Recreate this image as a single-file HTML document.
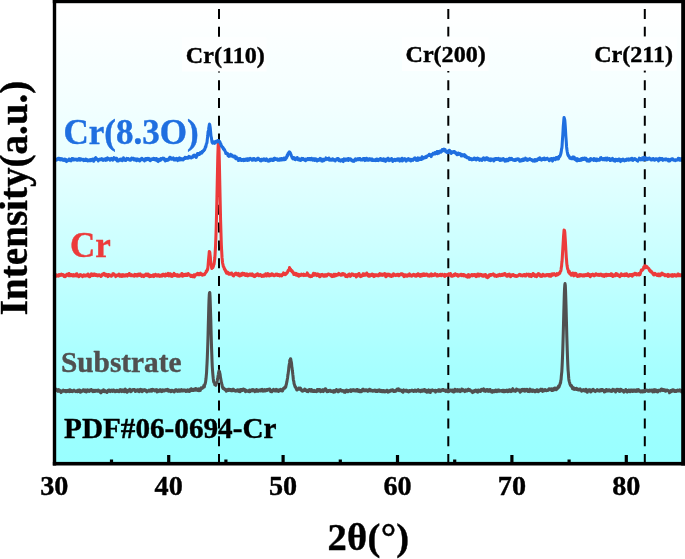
<!DOCTYPE html>
<html><head><meta charset="utf-8"><title>XRD</title>
<style>
html,body{margin:0;padding:0;background:#fff;}
body{width:685px;height:559px;overflow:hidden;}
svg{display:block;}
svg text{font-family:"Liberation Serif","Times New Roman",serif;font-weight:bold;stroke-width:0.4px;stroke-linejoin:round;}
</style></head><body>
<svg width="685" height="559" viewBox="0 0 685 559">
<defs>
<linearGradient id="bg" x1="0" y1="0" x2="0" y2="1">
<stop offset="0.000" stop-color="#ffffff"/>
<stop offset="0.025" stop-color="#feffff"/>
<stop offset="0.050" stop-color="#fdffff"/>
<stop offset="0.075" stop-color="#fbffff"/>
<stop offset="0.100" stop-color="#faffff"/>
<stop offset="0.125" stop-color="#f8ffff"/>
<stop offset="0.150" stop-color="#f7ffff"/>
<stop offset="0.175" stop-color="#f6ffff"/>
<stop offset="0.200" stop-color="#f4ffff"/>
<stop offset="0.225" stop-color="#f2ffff"/>
<stop offset="0.250" stop-color="#f0ffff"/>
<stop offset="0.275" stop-color="#eeffff"/>
<stop offset="0.300" stop-color="#ecffff"/>
<stop offset="0.325" stop-color="#e9ffff"/>
<stop offset="0.350" stop-color="#e6ffff"/>
<stop offset="0.375" stop-color="#e3ffff"/>
<stop offset="0.400" stop-color="#dfffff"/>
<stop offset="0.425" stop-color="#dcffff"/>
<stop offset="0.450" stop-color="#d8ffff"/>
<stop offset="0.475" stop-color="#d4ffff"/>
<stop offset="0.500" stop-color="#d0ffff"/>
<stop offset="0.525" stop-color="#cdffff"/>
<stop offset="0.550" stop-color="#c9ffff"/>
<stop offset="0.575" stop-color="#c5ffff"/>
<stop offset="0.600" stop-color="#c2ffff"/>
<stop offset="0.625" stop-color="#beffff"/>
<stop offset="0.650" stop-color="#baffff"/>
<stop offset="0.675" stop-color="#b7ffff"/>
<stop offset="0.700" stop-color="#b3ffff"/>
<stop offset="0.725" stop-color="#b0ffff"/>
<stop offset="0.750" stop-color="#acffff"/>
<stop offset="0.775" stop-color="#a9ffff"/>
<stop offset="0.800" stop-color="#a6ffff"/>
<stop offset="0.825" stop-color="#a4ffff"/>
<stop offset="0.850" stop-color="#a2ffff"/>
<stop offset="0.875" stop-color="#a0ffff"/>
<stop offset="0.900" stop-color="#9effff"/>
<stop offset="0.925" stop-color="#9dffff"/>
<stop offset="0.950" stop-color="#9bffff"/>
<stop offset="0.975" stop-color="#9affff"/>
<stop offset="1.000" stop-color="#99ffff"/>

</linearGradient>
</defs>
<rect x="0" y="0" width="685" height="559" fill="#fff"/>
<rect x="54.4" y="1.6" width="629.1" height="461.7" fill="url(#bg)"/>
<g stroke="#000" stroke-width="2" stroke-dasharray="10 7.8" fill="none">
<line x1="219" y1="9" x2="219" y2="463"/>
<line x1="448.3" y1="9" x2="448.3" y2="463"/>
<line x1="644.8" y1="9" x2="644.8" y2="463"/>
</g>
<g fill="#fdffff">
<rect x="182" y="37.2" width="84.5" height="34.3"/>
<rect x="402" y="36.6" width="86.5" height="34.4"/>
<rect x="591" y="36.6" width="85.6" height="34"/>
</g>
<g fill="#000" stroke="#000" font-size="24.1">
<text x="185.8" y="62.8">Cr(110)</text>
<text x="405.5" y="61.9">Cr(200)</text>
<text x="594.2" y="61.75">Cr(211)</text>
</g>
<g fill="none" stroke-width="3.05" stroke-linejoin="round" stroke-linecap="butt">
<path stroke="#505050" d="M54.30,390.4 54.55,389.8 54.80,390.9 55.05,390.7 55.30,390.6 55.55,389.9 55.80,389.8 56.05,390.0 56.30,389.3 56.55,389.8 56.80,390.0 57.05,390.5 57.30,390.8 57.55,389.9 57.80,390.5 58.05,391.4 58.30,390.0 58.55,390.3 58.80,389.7 59.05,390.5 59.30,390.1 59.55,390.2 59.80,390.3 60.05,391.0 60.30,391.7 60.55,391.8 60.80,390.9 61.05,392.6 61.30,391.3 61.55,391.0 61.80,391.3 62.05,390.8 62.30,390.7 62.55,390.6 62.80,390.6 63.05,390.7 63.30,390.2 63.55,391.2 63.80,390.7 64.05,391.0 64.30,390.8 64.55,390.6 64.80,390.7 65.05,391.1 65.30,390.5 65.55,390.5 65.80,391.8 66.05,390.6 66.30,391.8 66.55,391.5 66.80,391.2 67.05,391.5 67.30,391.0 67.55,390.6 67.80,390.5 68.05,390.9 68.30,390.2 68.55,390.4 68.80,391.1 69.05,391.1 69.30,391.6 69.55,390.7 69.80,389.8 70.05,390.9 70.30,391.5 70.55,390.7 70.80,391.4 71.05,391.4 71.30,390.4 71.55,390.9 71.80,390.5 72.05,391.1 72.30,391.5 72.55,391.6 72.80,391.1 73.05,391.2 73.30,390.6 73.55,390.4 73.80,390.4 74.05,390.1 74.30,390.8 74.55,390.7 74.80,391.1 75.05,391.1 75.30,391.2 75.55,391.4 75.80,391.6 76.05,391.2 76.30,391.3 76.55,391.0 76.80,390.8 77.05,390.7 77.30,390.6 77.55,391.8 77.80,390.3 78.05,391.1 78.30,390.2 78.55,391.5 78.80,391.3 79.05,390.1 79.30,390.2 79.55,390.1 79.80,390.9 80.05,391.1 80.30,392.1 80.55,390.6 80.80,392.1 81.05,391.1 81.30,391.6 81.55,391.7 81.80,391.3 82.05,391.0 82.30,390.6 82.55,390.6 82.80,390.8 83.05,390.9 83.30,389.9 83.55,390.5 83.80,390.1 84.05,390.4 84.30,390.2 84.55,390.7 84.80,391.5 85.05,391.2 85.30,390.0 85.55,390.9 85.80,390.4 86.05,391.1 86.30,392.0 86.55,391.6 86.80,391.6 87.05,390.9 87.30,390.0 87.55,389.8 87.80,390.7 88.05,390.4 88.30,390.9 88.55,390.4 88.80,391.3 89.05,390.8 89.30,391.3 89.55,390.8 89.80,390.2 90.05,390.8 90.30,390.2 90.55,390.1 90.80,389.8 91.05,390.3 91.30,389.5 91.55,389.9 91.80,390.7 92.05,390.8 92.30,391.2 92.55,391.4 92.80,391.0 93.05,391.6 93.30,390.5 93.55,391.4 93.80,390.4 94.05,390.9 94.30,391.1 94.55,391.0 94.80,391.4 95.05,390.2 95.30,391.0 95.55,390.7 95.80,391.1 96.05,391.0 96.30,390.7 96.55,390.8 96.80,390.4 97.05,391.1 97.30,390.5 97.55,391.1 97.80,390.2 98.05,391.1 98.30,390.1 98.55,391.2 98.80,390.5 99.05,391.0 99.30,390.6 99.55,391.4 99.80,391.3 100.05,392.1 100.30,392.1 100.55,392.6 100.80,392.8 101.05,391.7 101.30,392.5 101.55,391.8 101.80,390.8 102.05,391.5 102.30,390.8 102.55,391.4 102.80,390.5 103.05,390.5 103.30,390.6 103.55,389.8 103.80,390.8 104.05,390.3 104.30,391.6 104.55,391.7 104.80,391.0 105.05,390.5 105.30,391.4 105.55,391.6 105.80,391.7 106.05,391.2 106.30,391.2 106.55,391.6 106.80,391.4 107.05,392.5 107.30,391.2 107.55,391.0 107.80,391.3 108.05,390.4 108.30,390.6 108.55,390.1 108.80,390.1 109.05,390.2 109.30,391.1 109.55,390.7 109.80,390.2 110.05,390.7 110.30,391.6 110.55,390.7 110.80,390.6 111.05,390.6 111.30,390.9 111.55,390.5 111.80,390.8 112.05,390.2 112.30,390.3 112.55,390.4 112.80,391.5 113.05,390.4 113.30,390.2 113.55,390.5 113.80,390.1 114.05,390.8 114.30,390.9 114.55,390.7 114.80,390.9 115.05,391.2 115.30,391.7 115.55,391.1 115.80,391.1 116.05,390.5 116.30,390.6 116.55,391.4 116.80,390.2 117.05,390.8 117.30,390.5 117.55,390.6 117.80,391.4 118.05,390.8 118.30,391.4 118.55,391.3 118.80,390.9 119.05,391.8 119.30,391.1 119.55,390.9 119.80,389.8 120.05,390.1 120.30,389.8 120.55,390.5 120.80,391.1 121.05,389.8 121.30,391.0 121.55,390.9 121.80,391.6 122.05,391.0 122.30,390.4 122.55,390.7 122.80,390.1 123.05,389.8 123.30,390.6 123.55,390.5 123.80,391.0 124.05,390.3 124.30,391.7 124.55,391.4 124.80,391.1 125.05,389.8 125.30,389.2 125.55,389.8 125.80,390.1 126.05,391.6 126.30,391.8 126.55,391.2 126.80,392.0 127.05,392.2 127.30,391.5 127.55,391.7 127.80,391.3 128.05,390.2 128.30,390.2 128.55,390.8 128.80,391.0 129.05,389.8 129.30,389.7 129.55,390.4 129.80,389.2 130.05,391.0 130.30,389.9 130.55,390.7 130.80,391.7 131.05,390.3 131.30,390.4 131.55,391.3 131.80,390.0 132.05,389.9 132.30,389.8 132.55,389.9 132.80,390.0 133.05,389.4 133.30,389.4 133.55,389.6 133.80,389.9 134.05,390.0 134.30,389.7 134.55,390.4 134.80,389.6 135.05,390.5 135.30,391.5 135.55,391.4 135.80,391.2 136.05,390.4 136.30,390.5 136.55,390.5 136.80,390.8 137.05,390.4 137.30,389.7 137.55,390.2 137.80,390.8 138.05,391.2 138.30,390.1 138.55,390.4 138.80,390.0 139.05,390.3 139.30,391.8 139.55,390.6 139.80,390.2 140.05,390.1 140.30,389.5 140.55,389.3 140.80,390.1 141.05,390.3 141.30,391.2 141.55,389.9 141.80,391.2 142.05,391.6 142.30,390.0 142.55,391.1 142.80,390.0 143.05,390.5 143.30,390.9 143.55,390.2 143.80,390.5 144.05,389.8 144.30,390.1 144.55,390.2 144.80,389.8 145.05,389.9 145.30,390.1 145.55,390.5 145.80,390.0 146.05,391.1 146.30,390.9 146.55,391.5 146.80,391.8 147.05,391.6 147.30,391.7 147.55,390.7 147.80,391.1 148.05,390.8 148.30,390.7 148.55,390.8 148.80,390.7 149.05,390.2 149.30,390.5 149.55,390.6 149.80,391.1 150.05,390.9 150.30,391.2 150.55,390.8 150.80,389.9 151.05,390.6 151.30,389.6 151.55,390.6 151.80,391.1 152.05,390.5 152.30,390.5 152.55,389.8 152.80,389.3 153.05,390.1 153.30,390.2 153.55,389.6 153.80,389.9 154.05,390.1 154.30,390.1 154.55,390.9 154.80,390.4 155.05,390.1 155.30,390.1 155.55,390.4 155.80,389.7 156.05,390.7 156.30,390.5 156.55,390.0 156.80,389.7 157.05,392.0 157.30,390.9 157.55,391.1 157.80,391.6 158.05,391.1 158.30,391.0 158.55,391.3 158.80,390.5 159.05,391.2 159.30,390.1 159.55,391.2 159.80,391.1 160.05,389.7 160.30,391.2 160.55,389.9 160.80,390.9 161.05,390.3 161.30,390.8 161.55,390.2 161.80,391.6 162.05,391.1 162.30,391.3 162.55,390.8 162.80,390.8 163.05,389.9 163.30,390.1 163.55,390.9 163.80,390.6 164.05,390.4 164.30,390.0 164.55,390.2 164.80,390.9 165.05,390.4 165.30,390.4 165.55,389.9 165.80,389.7 166.05,389.6 166.30,389.7 166.55,389.8 166.80,389.9 167.05,390.6 167.30,389.8 167.55,389.4 167.80,390.5 168.05,390.2 168.30,390.5 168.55,391.2 168.80,390.7 169.05,390.3 169.30,390.6 169.55,390.4 169.80,390.9 170.05,390.4 170.30,390.6 170.55,390.7 170.80,391.7 171.05,391.6 171.30,390.5 171.55,390.9 171.80,390.2 172.05,390.7 172.30,390.5 172.55,391.1 172.80,390.6 173.05,390.7 173.30,390.9 173.55,391.2 173.80,391.0 174.05,390.8 174.30,391.9 174.55,391.0 174.80,390.3 175.05,390.2 175.30,389.9 175.55,390.6 175.80,390.8 176.05,389.7 176.30,390.5 176.55,389.7 176.80,390.6 177.05,390.3 177.30,390.6 177.55,391.4 177.80,391.3 178.05,390.8 178.30,390.4 178.55,390.4 178.80,390.3 179.05,389.8 179.30,391.3 179.55,390.6 179.80,390.6 180.05,390.6 180.30,391.2 180.55,390.1 180.80,390.8 181.05,390.2 181.30,390.3 181.55,389.7 181.80,390.9 182.05,390.5 182.30,390.5 182.55,390.8 182.80,390.8 183.05,390.9 183.30,390.1 183.55,390.5 183.80,390.1 184.05,390.0 184.30,390.3 184.55,390.0 184.80,390.7 185.05,390.4 185.30,390.1 185.55,390.9 185.80,391.5 186.05,390.7 186.30,390.7 186.55,390.7 186.80,390.8 187.05,390.3 187.30,390.7 187.55,389.9 187.80,391.1 188.05,390.7 188.30,390.2 188.55,390.8 188.80,391.0 189.05,391.4 189.30,390.2 189.55,391.5 189.80,390.5 190.05,389.6 190.30,390.9 190.55,389.8 190.80,389.2 191.05,389.5 191.30,388.7 191.55,389.9 191.80,389.4 192.05,389.4 192.30,390.5 192.55,390.1 192.80,389.5 193.05,389.4 193.30,390.0 193.55,390.5 193.80,389.7 194.05,389.4 194.30,389.9 194.55,389.5 194.80,389.6 195.05,390.3 195.30,388.9 195.55,389.4 195.80,388.5 196.05,389.6 196.30,390.1 196.55,390.2 196.80,389.1 197.05,389.9 197.30,390.0 197.55,389.7 197.80,390.5 198.05,389.4 198.30,389.0 198.55,389.9 198.80,389.0 199.05,390.7 199.30,390.4 199.55,389.5 199.80,390.0 200.05,389.9 200.30,390.4 200.55,388.9 200.80,388.3 201.05,387.9 201.30,388.6 201.55,388.1 201.80,388.4 202.05,388.4 202.30,388.0 202.55,387.5 202.80,387.9 203.05,387.4 203.30,386.9 203.55,387.0 203.80,385.6 204.05,385.8 204.30,386.9 204.55,385.4 204.80,384.2 205.05,384.2 205.30,383.1 205.55,382.1 205.80,380.2 206.05,378.3 206.30,375.4 206.55,372.8 206.80,367.6 207.05,363.1 207.30,357.6 207.55,350.7 207.80,343.5 208.05,335.0 208.30,324.9 208.55,316.1 208.80,306.3 209.05,299.3 209.30,294.5 209.55,292.6 209.80,292.5 210.05,296.9 210.30,303.9 210.55,312.4 210.80,320.6 211.05,330.7 211.30,339.8 211.55,347.9 211.80,354.5 212.05,361.5 212.30,367.0 212.55,370.6 212.80,373.9 213.05,376.5 213.30,379.0 213.55,380.9 213.80,382.2 214.05,382.2 214.30,382.9 214.55,383.5 214.80,384.8 215.05,384.5 215.30,384.8 215.55,385.2 215.80,385.3 216.05,384.4 216.30,383.4 216.55,383.0 216.80,382.8 217.05,382.0 217.30,380.5 217.55,378.7 217.80,378.4 218.05,376.0 218.30,374.7 218.55,373.1 218.80,371.9 219.05,370.9 219.30,371.5 219.55,371.7 219.80,373.4 220.05,374.0 220.30,376.1 220.55,377.9 220.80,378.9 221.05,380.5 221.30,382.2 221.55,382.7 221.80,384.2 222.05,384.8 222.30,386.8 222.55,387.2 222.80,387.9 223.05,388.5 223.30,387.8 223.55,388.3 223.80,388.7 224.05,388.4 224.30,389.1 224.55,388.9 224.80,389.7 225.05,389.6 225.30,389.6 225.55,389.5 225.80,389.7 226.05,389.5 226.30,391.2 226.55,390.9 226.80,390.3 227.05,390.0 227.30,390.3 227.55,390.5 227.80,390.0 228.05,390.3 228.30,389.3 228.55,390.0 228.80,390.3 229.05,389.9 229.30,389.4 229.55,389.3 229.80,389.7 230.05,390.1 230.30,390.4 230.55,389.5 230.80,390.2 231.05,390.4 231.30,390.7 231.55,390.2 231.80,390.5 232.05,390.8 232.30,389.7 232.55,390.1 232.80,389.3 233.05,389.3 233.30,389.9 233.55,389.4 233.80,390.2 234.05,390.6 234.30,390.3 234.55,390.5 234.80,390.7 235.05,390.7 235.30,391.1 235.55,391.2 235.80,390.6 236.05,390.3 236.30,390.5 236.55,390.8 236.80,390.3 237.05,390.9 237.30,390.1 237.55,390.9 237.80,389.9 238.05,390.2 238.30,390.1 238.55,390.2 238.80,390.1 239.05,391.4 239.30,390.7 239.55,390.8 239.80,390.2 240.05,391.7 240.30,391.4 240.55,390.8 240.80,389.6 241.05,390.4 241.30,389.8 241.55,390.2 241.80,390.2 242.05,389.5 242.30,390.0 242.55,390.4 242.80,389.9 243.05,389.8 243.30,389.1 243.55,389.5 243.80,389.2 244.05,390.3 244.30,390.0 244.55,389.6 244.80,390.4 245.05,390.5 245.30,389.7 245.55,391.7 245.80,391.7 246.05,390.8 246.30,390.9 246.55,390.9 246.80,390.5 247.05,390.8 247.30,390.7 247.55,390.9 247.80,391.0 248.05,391.3 248.30,391.1 248.55,391.1 248.80,391.2 249.05,390.6 249.30,391.6 249.55,390.1 249.80,390.9 250.05,391.6 250.30,391.2 250.55,390.6 250.80,391.0 251.05,390.3 251.30,390.5 251.55,390.7 251.80,389.8 252.05,390.0 252.30,390.9 252.55,389.9 252.80,389.5 253.05,389.6 253.30,389.9 253.55,390.2 253.80,390.1 254.05,390.9 254.30,390.8 254.55,391.1 254.80,391.6 255.05,390.2 255.30,391.3 255.55,390.6 255.80,390.5 256.05,390.3 256.30,390.6 256.55,389.6 256.80,391.2 257.05,390.2 257.30,389.9 257.55,390.7 257.80,390.7 258.05,391.0 258.30,391.2 258.55,390.8 258.80,390.6 259.05,390.6 259.30,390.0 259.55,390.3 259.80,390.6 260.05,390.1 260.30,390.4 260.55,389.8 260.80,391.0 261.05,390.9 261.30,389.9 261.55,390.1 261.80,390.8 262.05,390.0 262.30,389.4 262.55,389.6 262.80,390.6 263.05,391.2 263.30,390.1 263.55,390.6 263.80,390.7 264.05,390.8 264.30,390.8 264.55,390.0 264.80,389.7 265.05,391.0 265.30,390.1 265.55,390.0 265.80,390.7 266.05,390.3 266.30,390.4 266.55,390.5 266.80,389.6 267.05,390.1 267.30,390.3 267.55,389.9 267.80,389.8 268.05,389.9 268.30,389.3 268.55,389.7 268.80,389.8 269.05,389.9 269.30,389.7 269.55,389.0 269.80,389.2 270.05,390.0 270.30,390.4 270.55,391.4 270.80,391.2 271.05,391.0 271.30,391.6 271.55,391.5 271.80,391.7 272.05,390.7 272.30,390.3 272.55,390.0 272.80,390.7 273.05,390.3 273.30,390.2 273.55,390.5 273.80,389.4 274.05,390.6 274.30,390.6 274.55,390.1 274.80,390.9 275.05,390.0 275.30,390.1 275.55,390.6 275.80,390.9 276.05,390.2 276.30,389.4 276.55,390.2 276.80,389.8 277.05,390.9 277.30,390.9 277.55,390.4 277.80,390.3 278.05,391.1 278.30,390.4 278.55,391.4 278.80,391.2 279.05,390.3 279.30,390.3 279.55,389.8 279.80,389.6 280.05,390.5 280.30,390.0 280.55,389.5 280.80,389.3 281.05,390.2 281.30,390.8 281.55,390.8 281.80,390.9 282.05,390.5 282.30,389.7 282.55,391.0 282.80,390.0 283.05,389.4 283.30,389.5 283.55,388.2 283.80,388.2 284.05,387.9 284.30,388.3 284.55,387.5 284.80,387.4 285.05,388.0 285.30,387.2 285.55,386.3 285.80,386.8 286.05,384.9 286.30,384.7 286.55,383.1 286.80,382.2 287.05,380.8 287.30,379.2 287.55,378.0 287.80,375.6 288.05,374.4 288.30,372.4 288.55,370.6 288.80,367.8 289.05,365.8 289.30,364.3 289.55,363.0 289.80,360.2 290.05,360.0 290.30,359.8 290.55,358.7 290.80,359.3 291.05,361.1 291.30,361.9 291.55,363.5 291.80,366.7 292.05,367.8 292.30,370.3 292.55,371.9 292.80,374.4 293.05,376.3 293.30,379.2 293.55,380.8 293.80,381.2 294.05,383.6 294.30,384.2 294.55,384.9 294.80,385.9 295.05,386.7 295.30,386.5 295.55,387.0 295.80,387.9 296.05,388.6 296.30,388.7 296.55,389.3 296.80,389.9 297.05,389.3 297.30,389.8 297.55,389.4 297.80,389.5 298.05,388.9 298.30,388.9 298.55,388.8 298.80,388.0 299.05,388.7 299.30,388.7 299.55,389.2 299.80,389.0 300.05,388.7 300.30,388.8 300.55,388.1 300.80,388.9 301.05,390.0 301.30,390.3 301.55,390.1 301.80,390.3 302.05,390.6 302.30,391.1 302.55,390.2 302.80,390.4 303.05,391.0 303.30,390.6 303.55,390.2 303.80,389.9 304.05,390.0 304.30,389.6 304.55,389.6 304.80,389.1 305.05,390.4 305.30,389.9 305.55,390.1 305.80,390.6 306.05,390.6 306.30,390.0 306.55,390.8 306.80,390.1 307.05,391.4 307.30,391.0 307.55,391.1 307.80,391.2 308.05,391.6 308.30,390.7 308.55,390.2 308.80,390.9 309.05,390.2 309.30,390.4 309.55,389.6 309.80,390.3 310.05,389.7 310.30,390.5 310.55,390.6 310.80,390.4 311.05,391.3 311.30,390.7 311.55,389.5 311.80,390.7 312.05,390.6 312.30,390.6 312.55,390.7 312.80,391.3 313.05,391.5 313.30,391.1 313.55,390.5 313.80,390.7 314.05,391.4 314.30,390.4 314.55,390.9 314.80,391.1 315.05,391.0 315.30,391.4 315.55,391.0 315.80,390.9 316.05,391.0 316.30,391.5 316.55,391.6 316.80,390.4 317.05,391.0 317.30,389.6 317.55,390.2 317.80,389.8 318.05,391.0 318.30,390.1 318.55,390.6 318.80,389.5 319.05,390.3 319.30,390.6 319.55,390.7 319.80,389.6 320.05,390.8 320.30,391.1 320.55,391.7 320.80,391.5 321.05,390.4 321.30,390.8 321.55,391.2 321.80,390.4 322.05,390.7 322.30,390.0 322.55,389.9 322.80,390.2 323.05,389.8 323.30,391.6 323.55,390.4 323.80,390.6 324.05,390.0 324.30,390.2 324.55,390.0 324.80,389.2 325.05,388.9 325.30,389.9 325.55,389.9 325.80,388.9 326.05,389.7 326.30,390.7 326.55,390.9 326.80,391.6 327.05,391.0 327.30,391.6 327.55,391.4 327.80,391.0 328.05,390.7 328.30,391.5 328.55,391.3 328.80,391.0 329.05,390.5 329.30,390.4 329.55,390.3 329.80,390.8 330.05,390.5 330.30,390.4 330.55,391.1 330.80,390.8 331.05,391.4 331.30,390.9 331.55,391.5 331.80,391.1 332.05,391.4 332.30,391.3 332.55,391.6 332.80,390.9 333.05,390.8 333.30,390.6 333.55,392.3 333.80,391.4 334.05,391.2 334.30,390.8 334.55,391.1 334.80,392.0 335.05,390.5 335.30,390.4 335.55,390.4 335.80,390.0 336.05,390.0 336.30,389.7 336.55,390.0 336.80,389.8 337.05,390.9 337.30,390.1 337.55,391.1 337.80,391.7 338.05,391.8 338.30,390.8 338.55,390.2 338.80,391.5 339.05,391.1 339.30,390.4 339.55,390.9 339.80,390.1 340.05,389.9 340.30,389.5 340.55,390.2 340.80,390.2 341.05,390.1 341.30,390.9 341.55,390.6 341.80,390.5 342.05,391.3 342.30,391.3 342.55,390.7 342.80,390.8 343.05,391.1 343.30,390.9 343.55,390.8 343.80,391.5 344.05,390.9 344.30,392.1 344.55,391.2 344.80,390.9 345.05,391.9 345.30,392.3 345.55,391.1 345.80,390.9 346.05,390.3 346.30,390.9 346.55,390.6 346.80,390.1 347.05,390.5 347.30,391.0 347.55,391.0 347.80,391.7 348.05,391.3 348.30,391.0 348.55,390.7 348.80,391.2 349.05,391.0 349.30,390.5 349.55,390.4 349.80,390.5 350.05,390.6 350.30,390.9 350.55,389.8 350.80,389.8 351.05,391.4 351.30,391.0 351.55,390.4 351.80,390.9 352.05,390.7 352.30,390.3 352.55,390.5 352.80,389.7 353.05,390.3 353.30,390.0 353.55,390.7 353.80,389.9 354.05,390.3 354.30,390.2 354.55,390.6 354.80,390.1 355.05,391.0 355.30,390.3 355.55,390.6 355.80,390.8 356.05,390.3 356.30,389.9 356.55,390.3 356.80,391.0 357.05,390.2 357.30,389.5 357.55,390.0 357.80,391.3 358.05,390.3 358.30,391.1 358.55,390.8 358.80,391.4 359.05,390.9 359.30,390.1 359.55,390.5 359.80,391.8 360.05,390.9 360.30,391.1 360.55,390.7 360.80,391.1 361.05,391.4 361.30,391.4 361.55,391.7 361.80,390.8 362.05,390.6 362.30,389.8 362.55,389.5 362.80,389.3 363.05,390.2 363.30,389.2 363.55,390.7 363.80,390.5 364.05,390.4 364.30,390.0 364.55,390.5 364.80,390.5 365.05,390.8 365.30,390.0 365.55,389.9 365.80,390.3 366.05,390.4 366.30,390.4 366.55,389.9 366.80,390.0 367.05,390.4 367.30,390.8 367.55,391.2 367.80,391.4 368.05,390.6 368.30,390.0 368.55,390.5 368.80,389.7 369.05,389.7 369.30,390.7 369.55,389.2 369.80,390.0 370.05,390.0 370.30,390.9 370.55,390.1 370.80,390.5 371.05,390.1 371.30,390.1 371.55,390.9 371.80,390.9 372.05,390.3 372.30,390.6 372.55,390.5 372.80,391.2 373.05,390.8 373.30,390.6 373.55,390.7 373.80,390.4 374.05,390.7 374.30,390.2 374.55,390.1 374.80,390.6 375.05,391.0 375.30,391.3 375.55,391.4 375.80,390.3 376.05,391.1 376.30,391.4 376.55,390.6 376.80,391.1 377.05,390.8 377.30,390.5 377.55,391.5 377.80,390.2 378.05,390.9 378.30,390.5 378.55,390.0 378.80,390.1 379.05,390.3 379.30,390.1 379.55,390.8 379.80,390.1 380.05,391.4 380.30,391.5 380.55,391.5 380.80,390.8 381.05,390.3 381.30,390.8 381.55,391.2 381.80,391.6 382.05,391.2 382.30,391.3 382.55,391.3 382.80,390.5 383.05,391.8 383.30,390.5 383.55,390.7 383.80,391.2 384.05,390.7 384.30,391.0 384.55,391.8 384.80,391.2 385.05,391.9 385.30,391.7 385.55,391.4 385.80,391.6 386.05,390.8 386.30,390.5 386.55,391.0 386.80,390.4 387.05,390.7 387.30,390.3 387.55,390.6 387.80,391.5 388.05,392.1 388.30,391.6 388.55,391.4 388.80,391.0 389.05,391.1 389.30,391.6 389.55,391.0 389.80,391.2 390.05,390.5 390.30,391.2 390.55,390.2 390.80,390.8 391.05,390.4 391.30,390.9 391.55,390.8 391.80,390.2 392.05,390.1 392.30,390.5 392.55,389.7 392.80,389.9 393.05,390.2 393.30,390.8 393.55,391.3 393.80,390.9 394.05,390.5 394.30,391.1 394.55,390.8 394.80,390.7 395.05,391.3 395.30,391.0 395.55,390.6 395.80,390.3 396.05,391.1 396.30,390.0 396.55,390.2 396.80,389.5 397.05,389.2 397.30,389.5 397.55,389.9 397.80,389.8 398.05,389.8 398.30,389.3 398.55,388.9 398.80,390.5 399.05,390.0 399.30,390.6 399.55,390.4 399.80,389.8 400.05,390.4 400.30,390.3 400.55,390.4 400.80,390.0 401.05,390.7 401.30,390.6 401.55,390.4 401.80,391.4 402.05,390.6 402.30,391.4 402.55,390.6 402.80,390.4 403.05,392.2 403.30,391.5 403.55,391.5 403.80,389.9 404.05,390.4 404.30,390.5 404.55,390.5 404.80,390.9 405.05,390.6 405.30,390.7 405.55,390.4 405.80,391.1 406.05,391.1 406.30,390.3 406.55,390.5 406.80,390.4 407.05,390.8 407.30,391.4 407.55,391.1 407.80,391.4 408.05,391.0 408.30,391.3 408.55,391.9 408.80,391.0 409.05,391.1 409.30,390.5 409.55,391.6 409.80,390.6 410.05,390.5 410.30,390.8 410.55,390.8 410.80,390.6 411.05,391.0 411.30,390.8 411.55,390.6 411.80,390.2 412.05,390.1 412.30,390.3 412.55,390.6 412.80,390.5 413.05,390.6 413.30,391.3 413.55,391.5 413.80,391.0 414.05,391.2 414.30,391.0 414.55,390.4 414.80,390.9 415.05,390.2 415.30,390.1 415.55,390.3 415.80,391.1 416.05,390.7 416.30,391.4 416.55,391.1 416.80,390.7 417.05,390.9 417.30,390.5 417.55,390.7 417.80,389.8 418.05,390.1 418.30,389.7 418.55,390.2 418.80,390.4 419.05,391.2 419.30,391.1 419.55,391.1 419.80,391.1 420.05,390.6 420.30,391.5 420.55,391.4 420.80,391.7 421.05,390.3 421.30,390.4 421.55,390.4 421.80,390.4 422.05,390.9 422.30,390.1 422.55,391.3 422.80,391.0 423.05,390.8 423.30,390.6 423.55,389.9 423.80,390.6 424.05,390.9 424.30,389.6 424.55,389.6 424.80,390.2 425.05,390.2 425.30,389.8 425.55,391.5 425.80,391.2 426.05,390.7 426.30,390.4 426.55,391.4 426.80,392.2 427.05,391.6 427.30,391.6 427.55,390.5 427.80,391.0 428.05,390.5 428.30,392.0 428.55,391.1 428.80,389.9 429.05,390.2 429.30,391.3 429.55,391.0 429.80,391.1 430.05,391.6 430.30,392.5 430.55,391.7 430.80,390.3 431.05,391.0 431.30,390.5 431.55,390.3 431.80,390.3 432.05,390.1 432.30,389.9 432.55,390.5 432.80,390.0 433.05,390.8 433.30,390.7 433.55,390.8 433.80,390.5 434.05,390.9 434.30,390.5 434.55,390.8 434.80,390.5 435.05,391.0 435.30,390.2 435.55,392.1 435.80,390.5 436.05,390.8 436.30,390.6 436.55,390.6 436.80,390.9 437.05,390.5 437.30,390.4 437.55,390.3 437.80,390.3 438.05,390.1 438.30,391.2 438.55,389.7 438.80,389.9 439.05,390.5 439.30,391.1 439.55,389.9 439.80,390.0 440.05,391.0 440.30,391.3 440.55,390.6 440.80,390.4 441.05,390.6 441.30,391.0 441.55,390.6 441.80,390.5 442.05,390.1 442.30,389.6 442.55,389.9 442.80,389.6 443.05,390.2 443.30,389.5 443.55,389.7 443.80,390.6 444.05,390.7 444.30,390.7 444.55,390.8 444.80,390.5 445.05,390.7 445.30,390.5 445.55,390.8 445.80,391.5 446.05,390.1 446.30,390.4 446.55,390.6 446.80,390.9 447.05,390.6 447.30,390.5 447.55,391.4 447.80,391.5 448.05,391.8 448.30,391.7 448.55,390.8 448.80,391.6 449.05,390.8 449.30,390.6 449.55,390.2 449.80,390.9 450.05,390.8 450.30,390.0 450.55,390.0 450.80,390.4 451.05,390.7 451.30,391.0 451.55,390.6 451.80,390.6 452.05,390.0 452.30,390.4 452.55,390.1 452.80,391.7 453.05,391.9 453.30,391.5 453.55,391.7 453.80,392.0 454.05,391.5 454.30,390.3 454.55,390.5 454.80,389.3 455.05,390.1 455.30,390.4 455.55,390.8 455.80,391.2 456.05,390.2 456.30,390.4 456.55,390.6 456.80,390.4 457.05,390.2 457.30,389.7 457.55,390.5 457.80,391.2 458.05,390.7 458.30,390.0 458.55,390.4 458.80,390.5 459.05,389.7 459.30,390.4 459.55,390.1 459.80,390.5 460.05,390.6 460.30,391.6 460.55,390.6 460.80,390.6 461.05,390.7 461.30,390.0 461.55,390.0 461.80,389.0 462.05,390.2 462.30,389.9 462.55,389.4 462.80,390.7 463.05,390.0 463.30,390.7 463.55,390.4 463.80,390.2 464.05,390.7 464.30,390.4 464.55,391.3 464.80,391.6 465.05,390.5 465.30,390.0 465.55,390.3 465.80,389.9 466.05,390.6 466.30,390.8 466.55,390.3 466.80,390.4 467.05,390.7 467.30,390.9 467.55,390.1 467.80,390.1 468.05,389.4 468.30,389.2 468.55,390.5 468.80,389.9 469.05,390.0 469.30,390.0 469.55,389.9 469.80,389.6 470.05,390.6 470.30,390.3 470.55,390.5 470.80,390.7 471.05,390.9 471.30,390.8 471.55,391.5 471.80,391.3 472.05,391.5 472.30,391.2 472.55,392.6 472.80,391.5 473.05,391.9 473.30,391.5 473.55,391.3 473.80,391.8 474.05,391.2 474.30,390.7 474.55,391.0 474.80,390.5 475.05,391.2 475.30,390.7 475.55,391.1 475.80,390.0 476.05,391.1 476.30,390.4 476.55,391.0 476.80,391.6 477.05,391.4 477.30,391.4 477.55,392.1 477.80,391.4 478.05,392.0 478.30,390.0 478.55,391.1 478.80,390.8 479.05,390.6 479.30,391.1 479.55,390.7 479.80,390.5 480.05,390.7 480.30,390.9 480.55,391.4 480.80,389.9 481.05,389.6 481.30,389.4 481.55,390.1 481.80,390.1 482.05,390.1 482.30,389.6 482.55,390.1 482.80,389.3 483.05,390.2 483.30,389.2 483.55,388.8 483.80,390.9 484.05,390.6 484.30,390.4 484.55,390.5 484.80,390.1 485.05,391.1 485.30,390.5 485.55,391.4 485.80,390.7 486.05,389.7 486.30,390.4 486.55,390.6 486.80,389.7 487.05,390.4 487.30,389.9 487.55,389.7 487.80,389.5 488.05,391.3 488.30,390.9 488.55,391.3 488.80,390.2 489.05,390.4 489.30,391.3 489.55,390.3 489.80,390.2 490.05,389.5 490.30,390.2 490.55,391.1 490.80,390.6 491.05,391.0 491.30,390.5 491.55,392.0 491.80,391.7 492.05,392.0 492.30,392.2 492.55,391.5 492.80,390.6 493.05,391.3 493.30,391.2 493.55,391.7 493.80,390.7 494.05,390.8 494.30,391.0 494.55,391.4 494.80,390.5 495.05,391.6 495.30,391.4 495.55,391.2 495.80,390.0 496.05,391.2 496.30,391.5 496.55,390.8 496.80,391.7 497.05,390.8 497.30,390.3 497.55,390.6 497.80,390.5 498.05,390.8 498.30,390.1 498.55,391.1 498.80,390.1 499.05,390.7 499.30,390.5 499.55,390.6 499.80,391.2 500.05,391.1 500.30,390.9 500.55,391.0 500.80,390.8 501.05,391.0 501.30,391.2 501.55,391.3 501.80,390.8 502.05,390.5 502.30,390.4 502.55,391.4 502.80,391.1 503.05,390.5 503.30,391.8 503.55,390.3 503.80,390.9 504.05,391.1 504.30,390.6 504.55,391.8 504.80,390.7 505.05,390.4 505.30,391.6 505.55,391.0 505.80,390.5 506.05,390.5 506.30,390.7 506.55,390.8 506.80,390.7 507.05,390.1 507.30,390.9 507.55,391.8 507.80,390.8 508.05,390.9 508.30,391.2 508.55,391.5 508.80,390.6 509.05,390.0 509.30,389.8 509.55,391.0 509.80,391.2 510.05,390.1 510.30,390.1 510.55,390.7 510.80,390.7 511.05,391.6 511.30,391.0 511.55,391.3 511.80,390.4 512.05,389.7 512.30,389.9 512.55,389.1 512.80,388.7 513.05,389.6 513.30,390.4 513.55,389.6 513.80,390.8 514.05,391.0 514.30,390.6 514.55,391.0 514.80,391.0 515.05,391.1 515.30,391.3 515.55,390.8 515.80,391.0 516.05,390.6 516.30,390.5 516.55,389.1 516.80,389.2 517.05,390.2 517.30,389.8 517.55,389.8 517.80,389.9 518.05,390.0 518.30,390.2 518.55,389.8 518.80,390.1 519.05,390.4 519.30,390.0 519.55,391.2 519.80,390.0 520.05,392.2 520.30,390.7 520.55,391.4 520.80,391.6 521.05,391.3 521.30,391.0 521.55,390.2 521.80,389.6 522.05,390.3 522.30,390.7 522.55,389.8 522.80,389.4 523.05,390.2 523.30,390.6 523.55,390.0 523.80,390.7 524.05,390.6 524.30,390.6 524.55,389.4 524.80,391.3 525.05,390.2 525.30,390.6 525.55,389.8 525.80,389.7 526.05,389.4 526.30,389.9 526.55,389.9 526.80,389.7 527.05,390.8 527.30,389.4 527.55,390.0 527.80,390.3 528.05,391.4 528.30,390.6 528.55,390.9 528.80,391.1 529.05,389.8 529.30,391.6 529.55,390.2 529.80,389.7 530.05,389.1 530.30,390.2 530.55,389.4 530.80,390.5 531.05,390.4 531.30,391.3 531.55,390.4 531.80,391.0 532.05,390.8 532.30,391.3 532.55,390.0 532.80,390.5 533.05,389.9 533.30,389.9 533.55,390.6 533.80,390.5 534.05,390.3 534.30,391.1 534.55,391.7 534.80,391.1 535.05,391.6 535.30,390.8 535.55,391.7 535.80,391.1 536.05,390.4 536.30,390.0 536.55,390.8 536.80,390.2 537.05,389.7 537.30,389.7 537.55,390.4 537.80,391.5 538.05,390.5 538.30,391.8 538.55,390.5 538.80,390.8 539.05,391.2 539.30,390.3 539.55,390.3 539.80,389.8 540.05,389.7 540.30,390.2 540.55,389.9 540.80,389.6 541.05,389.2 541.30,390.4 541.55,390.1 541.80,390.1 542.05,389.5 542.30,389.4 542.55,391.4 542.80,390.2 543.05,390.7 543.30,390.9 543.55,390.6 543.80,390.3 544.05,390.1 544.30,390.0 544.55,390.6 544.80,390.2 545.05,389.7 545.30,390.1 545.55,390.2 545.80,390.2 546.05,390.0 546.30,390.6 546.55,390.4 546.80,390.7 547.05,390.2 547.30,390.0 547.55,390.0 547.80,390.1 548.05,390.3 548.30,390.0 548.55,389.3 548.80,389.3 549.05,388.8 549.30,389.6 549.55,389.1 549.80,388.9 550.05,389.8 550.30,389.0 550.55,389.7 550.80,389.9 551.05,389.8 551.30,389.6 551.55,390.1 551.80,390.4 552.05,388.9 552.30,389.2 552.55,389.7 552.80,390.4 553.05,388.9 553.30,388.8 553.55,389.3 553.80,390.1 554.05,389.4 554.30,388.8 554.55,389.2 554.80,387.9 555.05,387.9 555.30,389.0 555.55,389.2 555.80,388.4 556.05,389.7 556.30,389.5 556.55,389.5 556.80,388.7 557.05,388.6 557.30,387.7 557.55,388.1 557.80,387.6 558.05,388.1 558.30,387.1 558.55,386.0 558.80,386.2 559.05,387.0 559.30,385.7 559.55,385.6 559.80,384.4 560.05,384.1 560.30,382.9 560.55,383.0 560.80,380.5 561.05,379.8 561.30,376.6 561.55,374.0 561.80,371.8 562.05,367.2 562.30,362.2 562.55,356.0 562.80,348.9 563.05,340.4 563.30,331.7 563.55,322.4 563.80,312.6 564.05,303.9 564.30,294.7 564.55,288.6 564.80,284.8 565.05,283.6 565.30,285.4 565.55,291.1 565.80,299.1 566.05,307.2 566.30,316.9 566.55,326.0 566.80,335.9 567.05,343.9 567.30,351.4 567.55,358.7 567.80,364.6 568.05,369.8 568.30,372.4 568.55,376.1 568.80,379.0 569.05,380.7 569.30,381.6 569.55,382.4 569.80,383.4 570.05,384.4 570.30,384.9 570.55,385.4 570.80,385.9 571.05,385.4 571.30,385.5 571.55,385.7 571.80,386.2 572.05,387.5 572.30,387.5 572.55,388.6 572.80,388.1 573.05,387.9 573.30,388.7 573.55,387.8 573.80,388.3 574.05,389.3 574.30,389.4 574.55,389.3 574.80,389.2 575.05,388.9 575.30,389.2 575.55,388.6 575.80,388.9 576.05,388.8 576.30,389.3 576.55,388.2 576.80,389.3 577.05,388.7 577.30,388.8 577.55,388.8 577.80,389.1 578.05,389.7 578.30,390.0 578.55,389.4 578.80,389.8 579.05,389.6 579.30,389.5 579.55,389.6 579.80,389.4 580.05,389.9 580.30,388.9 580.55,390.1 580.80,390.3 581.05,390.3 581.30,390.6 581.55,391.1 581.80,390.5 582.05,390.7 582.30,390.8 582.55,390.7 582.80,390.5 583.05,389.8 583.30,390.0 583.55,389.9 583.80,390.4 584.05,390.7 584.30,390.7 584.55,390.9 584.80,390.4 585.05,391.1 585.30,391.0 585.55,390.2 585.80,390.7 586.05,389.2 586.30,391.3 586.55,390.9 586.80,391.2 587.05,390.1 587.30,392.2 587.55,390.6 587.80,390.7 588.05,391.1 588.30,390.7 588.55,390.0 588.80,390.9 589.05,389.7 589.30,390.8 589.55,390.5 589.80,391.2 590.05,389.8 590.30,391.4 590.55,390.7 590.80,391.9 591.05,390.8 591.30,391.6 591.55,390.9 591.80,390.9 592.05,390.0 592.30,390.2 592.55,390.0 592.80,389.4 593.05,389.3 593.30,389.5 593.55,390.6 593.80,389.9 594.05,390.7 594.30,390.5 594.55,390.6 594.80,391.0 595.05,390.7 595.30,391.6 595.55,391.1 595.80,391.1 596.05,390.5 596.30,391.0 596.55,390.1 596.80,390.0 597.05,390.4 597.30,389.6 597.55,389.9 597.80,390.1 598.05,390.5 598.30,390.2 598.55,391.0 598.80,391.0 599.05,390.4 599.30,390.2 599.55,390.1 599.80,391.1 600.05,390.7 600.30,389.8 600.55,390.2 600.80,390.0 601.05,389.7 601.30,389.9 601.55,390.8 601.80,389.6 602.05,390.1 602.30,389.5 602.55,389.7 602.80,389.9 603.05,390.4 603.30,390.2 603.55,390.7 603.80,390.8 604.05,390.7 604.30,391.9 604.55,390.4 604.80,390.8 605.05,391.8 605.30,390.5 605.55,390.9 605.80,390.8 606.05,390.6 606.30,389.6 606.55,391.1 606.80,390.0 607.05,389.8 607.30,391.0 607.55,390.2 607.80,390.7 608.05,390.3 608.30,390.8 608.55,390.3 608.80,390.5 609.05,389.8 609.30,390.2 609.55,390.5 609.80,390.6 610.05,390.6 610.30,391.3 610.55,391.0 610.80,390.4 611.05,391.1 611.30,391.2 611.55,391.4 611.80,391.4 612.05,391.0 612.30,390.3 612.55,390.5 612.80,389.3 613.05,390.8 613.30,390.2 613.55,390.2 613.80,389.8 614.05,389.9 614.30,390.0 614.55,390.7 614.80,389.7 615.05,391.0 615.30,391.4 615.55,392.0 615.80,391.1 616.05,390.9 616.30,390.9 616.55,390.7 616.80,390.5 617.05,389.4 617.30,389.5 617.55,389.8 617.80,389.9 618.05,389.3 618.30,389.6 618.55,390.2 618.80,391.1 619.05,390.7 619.30,391.2 619.55,391.4 619.80,391.5 620.05,390.7 620.30,390.6 620.55,389.3 620.80,389.9 621.05,390.5 621.30,389.5 621.55,390.5 621.80,390.7 622.05,390.1 622.30,391.0 622.55,390.2 622.80,390.5 623.05,391.3 623.30,391.5 623.55,391.2 623.80,390.9 624.05,392.1 624.30,391.2 624.55,390.9 624.80,390.9 625.05,390.7 625.30,390.6 625.55,390.3 625.80,389.5 626.05,391.2 626.30,390.5 626.55,390.3 626.80,390.7 627.05,390.4 627.30,392.1 627.55,391.8 627.80,391.6 628.05,391.5 628.30,390.7 628.55,390.7 628.80,390.0 629.05,390.5 629.30,390.2 629.55,390.8 629.80,390.7 630.05,391.7 630.30,391.3 630.55,391.1 630.80,390.1 631.05,391.0 631.30,391.2 631.55,390.5 631.80,390.0 632.05,391.0 632.30,391.4 632.55,390.4 632.80,391.4 633.05,390.1 633.30,390.7 633.55,391.1 633.80,390.4 634.05,390.6 634.30,390.0 634.55,390.0 634.80,391.3 635.05,391.0 635.30,390.6 635.55,390.3 635.80,390.2 636.05,391.4 636.30,390.6 636.55,390.9 636.80,390.6 637.05,389.8 637.30,391.2 637.55,390.8 637.80,390.2 638.05,390.4 638.30,390.3 638.55,389.7 638.80,389.9 639.05,390.9 639.30,390.7 639.55,391.2 639.80,390.6 640.05,391.2 640.30,391.6 640.55,392.0 640.80,392.0 641.05,391.8 641.30,391.2 641.55,390.8 641.80,390.9 642.05,390.9 642.30,390.8 642.55,390.8 642.80,391.9 643.05,391.4 643.30,390.8 643.55,391.3 643.80,391.1 644.05,391.8 644.30,391.8 644.55,390.6 644.80,391.3 645.05,390.5 645.30,390.9 645.55,390.9 645.80,390.4 646.05,390.5 646.30,390.1 646.55,389.9 646.80,389.9 647.05,390.8 647.30,390.8 647.55,390.7 647.80,391.1 648.05,391.3 648.30,390.9 648.55,390.9 648.80,391.2 649.05,390.4 649.30,391.2 649.55,390.2 649.80,390.1 650.05,390.9 650.30,391.0 650.55,390.5 650.80,390.6 651.05,390.5 651.30,390.5 651.55,390.2 651.80,390.1 652.05,390.0 652.30,390.9 652.55,391.3 652.80,391.9 653.05,390.5 653.30,390.9 653.55,390.6 653.80,391.1 654.05,389.7 654.30,390.4 654.55,391.8 654.80,390.9 655.05,389.8 655.30,390.1 655.55,390.3 655.80,390.3 656.05,390.2 656.30,390.0 656.55,391.0 656.80,391.0 657.05,391.8 657.30,391.9 657.55,391.2 657.80,391.8 658.05,390.8 658.30,391.1 658.55,390.2 658.80,390.5 659.05,390.4 659.30,390.3 659.55,390.6 659.80,390.8 660.05,390.9 660.30,390.9 660.55,390.2 660.80,390.2 661.05,389.4 661.30,390.1 661.55,389.1 661.80,390.3 662.05,389.3 662.30,390.1 662.55,389.6 662.80,390.5 663.05,390.1 663.30,389.7 663.55,389.9 663.80,390.4 664.05,390.5 664.30,389.7 664.55,390.3 664.80,390.5 665.05,390.6 665.30,391.1 665.55,390.4 665.80,390.2 666.05,391.1 666.30,390.5 666.55,390.8 666.80,390.5 667.05,390.7 667.30,390.2 667.55,390.4 667.80,390.3 668.05,390.7 668.30,390.6 668.55,391.0 668.80,390.9 669.05,391.4 669.30,391.7 669.55,392.8 669.80,391.2 670.05,391.3 670.30,390.8 670.55,391.0 670.80,390.5 671.05,390.8 671.30,390.5 671.55,391.6 671.80,390.9 672.05,390.0 672.30,390.7 672.55,390.8 672.80,389.7 673.05,390.2 673.30,390.7 673.55,390.6 673.80,390.7 674.05,390.2 674.30,391.2 674.55,391.5 674.80,391.3 675.05,390.9 675.30,390.9 675.55,390.7 675.80,391.3 676.05,390.9 676.30,391.4 676.55,390.6 676.80,391.2 677.05,390.3 677.30,390.6 677.55,390.1 677.80,391.0 678.05,390.9 678.30,390.6 678.55,390.9 678.80,390.2 679.05,390.5 679.30,391.0 679.55,390.2 679.80,389.8 680.05,390.5 680.30,390.6 680.55,391.0 680.80,391.1 681.05,390.4 681.30,391.3 681.55,391.9 681.80,391.2 682.05,391.5 682.30,390.8 682.55,391.1 682.80,391.7 683.05,390.9 683.30,390.2"/>
<path stroke="#ec3b3b" d="M54.30,275.2 54.55,276.3 54.80,275.8 55.05,275.8 55.30,274.7 55.55,275.8 55.80,275.7 56.05,274.7 56.30,276.2 56.55,275.4 56.80,275.3 57.05,275.7 57.30,275.6 57.55,275.6 57.80,275.7 58.05,275.9 58.30,276.1 58.55,274.7 58.80,275.1 59.05,274.7 59.30,275.1 59.55,275.7 59.80,275.2 60.05,274.6 60.30,274.8 60.55,275.2 60.80,274.5 61.05,274.8 61.30,274.9 61.55,274.1 61.80,275.2 62.05,274.9 62.30,275.2 62.55,274.5 62.80,274.5 63.05,274.6 63.30,275.1 63.55,275.1 63.80,275.7 64.05,276.4 64.30,276.3 64.55,275.3 64.80,275.5 65.05,276.7 65.30,275.7 65.55,276.0 65.80,276.1 66.05,275.3 66.30,275.5 66.55,275.4 66.80,274.3 67.05,274.1 67.30,274.6 67.55,275.2 67.80,274.2 68.05,274.3 68.30,274.0 68.55,274.3 68.80,275.8 69.05,273.6 69.30,274.5 69.55,275.3 69.80,274.5 70.05,275.7 70.30,275.5 70.55,274.6 70.80,275.1 71.05,274.6 71.30,275.4 71.55,275.0 71.80,274.7 72.05,275.7 72.30,275.5 72.55,275.9 72.80,275.6 73.05,274.8 73.30,275.6 73.55,276.0 73.80,274.8 74.05,276.0 74.30,275.7 74.55,275.2 74.80,275.0 75.05,275.6 75.30,275.6 75.55,275.3 75.80,275.0 76.05,274.0 76.30,276.0 76.55,274.6 76.80,273.8 77.05,274.4 77.30,274.7 77.55,275.4 77.80,275.2 78.05,275.5 78.30,275.0 78.55,276.6 78.80,275.8 79.05,276.6 79.30,275.3 79.55,275.5 79.80,274.8 80.05,275.6 80.30,275.4 80.55,274.7 80.80,274.8 81.05,274.7 81.30,275.0 81.55,275.7 81.80,275.5 82.05,275.5 82.30,276.3 82.55,276.7 82.80,275.7 83.05,275.8 83.30,275.7 83.55,275.4 83.80,274.9 84.05,275.4 84.30,275.2 84.55,275.3 84.80,275.2 85.05,276.1 85.30,276.0 85.55,275.4 85.80,275.3 86.05,275.8 86.30,275.1 86.55,275.3 86.80,275.5 87.05,275.1 87.30,275.3 87.55,274.5 87.80,274.9 88.05,274.0 88.30,276.2 88.55,275.7 88.80,275.8 89.05,275.7 89.30,276.5 89.55,276.8 89.80,276.7 90.05,276.2 90.30,275.2 90.55,275.6 90.80,274.8 91.05,274.2 91.30,273.8 91.55,274.9 91.80,275.2 92.05,274.0 92.30,275.6 92.55,275.3 92.80,274.6 93.05,275.1 93.30,274.9 93.55,275.4 93.80,274.8 94.05,274.1 94.30,275.3 94.55,274.0 94.80,274.7 95.05,275.1 95.30,275.0 95.55,275.5 95.80,275.5 96.05,275.3 96.30,274.7 96.55,274.5 96.80,275.0 97.05,275.3 97.30,275.6 97.55,275.9 97.80,275.4 98.05,275.3 98.30,274.9 98.55,275.3 98.80,275.6 99.05,275.1 99.30,274.8 99.55,274.8 99.80,275.7 100.05,275.7 100.30,275.5 100.55,275.8 100.80,276.5 101.05,275.8 101.30,276.2 101.55,275.7 101.80,275.2 102.05,275.4 102.30,274.5 102.55,274.0 102.80,274.1 103.05,273.8 103.30,274.6 103.55,274.3 103.80,274.5 104.05,274.8 104.30,273.4 104.55,275.1 104.80,274.2 105.05,275.1 105.30,274.8 105.55,275.2 105.80,275.7 106.05,274.2 106.30,275.4 106.55,275.3 106.80,274.5 107.05,275.6 107.30,275.3 107.55,275.2 107.80,275.3 108.05,276.6 108.30,275.5 108.55,274.5 108.80,274.7 109.05,275.1 109.30,275.0 109.55,275.1 109.80,274.9 110.05,275.5 110.30,275.3 110.55,275.3 110.80,276.1 111.05,276.2 111.30,276.2 111.55,276.0 111.80,275.2 112.05,275.3 112.30,275.1 112.55,275.2 112.80,273.8 113.05,274.7 113.30,274.8 113.55,273.8 113.80,274.5 114.05,274.4 114.30,274.4 114.55,275.1 114.80,275.2 115.05,275.3 115.30,275.3 115.55,275.5 115.80,276.6 116.05,275.0 116.30,275.3 116.55,276.1 116.80,275.8 117.05,275.8 117.30,275.0 117.55,275.0 117.80,275.0 118.05,274.7 118.30,274.6 118.55,274.3 118.80,274.2 119.05,275.2 119.30,275.1 119.55,276.0 119.80,276.2 120.05,276.0 120.30,275.6 120.55,274.7 120.80,275.7 121.05,274.8 121.30,275.4 121.55,276.2 121.80,275.1 122.05,276.5 122.30,275.9 122.55,274.9 122.80,274.7 123.05,275.3 123.30,275.3 123.55,276.0 123.80,276.1 124.05,275.1 124.30,275.9 124.55,276.0 124.80,275.7 125.05,275.4 125.30,276.0 125.55,275.5 125.80,274.7 126.05,275.2 126.30,275.6 126.55,274.8 126.80,274.8 127.05,275.9 127.30,276.1 127.55,274.9 127.80,274.5 128.05,275.2 128.30,274.5 128.55,275.2 128.80,274.7 129.05,274.7 129.30,273.6 129.55,274.4 129.80,274.7 130.05,275.5 130.30,275.0 130.55,274.5 130.80,275.7 131.05,275.4 131.30,274.9 131.55,274.7 131.80,275.3 132.05,275.7 132.30,275.1 132.55,275.7 132.80,275.4 133.05,275.3 133.30,275.3 133.55,275.9 133.80,275.1 134.05,275.5 134.30,275.9 134.55,276.2 134.80,275.9 135.05,274.4 135.30,275.1 135.55,274.9 135.80,274.9 136.05,274.5 136.30,275.4 136.55,275.8 136.80,274.9 137.05,274.6 137.30,275.1 137.55,274.6 137.80,275.9 138.05,274.2 138.30,274.1 138.55,274.8 138.80,274.5 139.05,274.6 139.30,275.0 139.55,275.3 139.80,274.1 140.05,273.9 140.30,274.0 140.55,275.5 140.80,275.7 141.05,274.9 141.30,276.0 141.55,275.7 141.80,276.4 142.05,275.7 142.30,275.3 142.55,275.4 142.80,275.4 143.05,275.1 143.30,276.1 143.55,276.4 143.80,276.6 144.05,275.5 144.30,275.4 144.55,275.0 144.80,275.7 145.05,275.4 145.30,274.6 145.55,275.2 145.80,275.1 146.05,274.1 146.30,275.1 146.55,275.0 146.80,274.6 147.05,274.4 147.30,275.6 147.55,275.5 147.80,275.6 148.05,274.1 148.30,274.5 148.55,275.1 148.80,274.6 149.05,274.8 149.30,274.8 149.55,276.7 149.80,276.6 150.05,275.9 150.30,276.2 150.55,276.1 150.80,276.0 151.05,276.3 151.30,275.5 151.55,276.2 151.80,275.8 152.05,275.6 152.30,276.2 152.55,275.6 152.80,275.8 153.05,275.5 153.30,274.8 153.55,276.1 153.80,275.2 154.05,276.6 154.30,275.0 154.55,275.0 154.80,275.8 155.05,275.6 155.30,275.4 155.55,274.3 155.80,275.3 156.05,274.8 156.30,275.0 156.55,275.0 156.80,275.5 157.05,276.0 157.30,275.4 157.55,275.9 157.80,275.6 158.05,274.8 158.30,274.9 158.55,275.3 158.80,275.2 159.05,276.0 159.30,275.1 159.55,276.3 159.80,276.4 160.05,276.0 160.30,275.3 160.55,275.8 160.80,275.6 161.05,276.0 161.30,275.7 161.55,276.0 161.80,275.5 162.05,276.1 162.30,274.6 162.55,275.2 162.80,275.6 163.05,274.4 163.30,275.3 163.55,274.2 163.80,275.4 164.05,274.8 164.30,274.8 164.55,275.0 164.80,275.3 165.05,275.0 165.30,276.1 165.55,274.8 165.80,274.2 166.05,275.3 166.30,275.2 166.55,275.3 166.80,275.5 167.05,274.2 167.30,275.4 167.55,275.2 167.80,274.7 168.05,274.8 168.30,273.4 168.55,275.0 168.80,275.9 169.05,273.7 169.30,274.9 169.55,275.1 169.80,275.4 170.05,275.8 170.30,273.7 170.55,274.9 170.80,275.8 171.05,274.5 171.30,275.1 171.55,276.3 171.80,276.4 172.05,276.1 172.30,274.7 172.55,275.5 172.80,275.6 173.05,275.2 173.30,275.0 173.55,275.7 173.80,274.0 174.05,273.4 174.30,274.1 174.55,274.2 174.80,274.2 175.05,274.4 175.30,275.2 175.55,275.5 175.80,274.9 176.05,275.4 176.30,275.8 176.55,275.4 176.80,276.0 177.05,275.4 177.30,274.6 177.55,275.1 177.80,276.3 178.05,275.7 178.30,275.1 178.55,275.8 178.80,275.7 179.05,275.1 179.30,276.3 179.55,275.8 179.80,276.0 180.05,275.5 180.30,275.4 180.55,274.7 180.80,274.9 181.05,274.9 181.30,274.5 181.55,274.7 181.80,273.6 182.05,274.5 182.30,275.7 182.55,276.2 182.80,275.7 183.05,275.4 183.30,275.0 183.55,275.7 183.80,275.4 184.05,274.4 184.30,275.5 184.55,275.0 184.80,275.1 185.05,274.5 185.30,275.2 185.55,274.3 185.80,275.4 186.05,274.6 186.30,274.1 186.55,275.1 186.80,275.0 187.05,274.3 187.30,275.4 187.55,274.0 187.80,274.6 188.05,274.9 188.30,273.6 188.55,274.9 188.80,274.3 189.05,274.8 189.30,274.6 189.55,275.3 189.80,274.9 190.05,275.0 190.30,275.2 190.55,275.0 190.80,276.5 191.05,275.2 191.30,275.6 191.55,275.5 191.80,275.7 192.05,276.5 192.30,276.6 192.55,275.8 192.80,275.8 193.05,275.9 193.30,276.6 193.55,276.5 193.80,275.6 194.05,274.7 194.30,276.9 194.55,276.2 194.80,275.7 195.05,275.7 195.30,275.2 195.55,274.9 195.80,275.1 196.05,274.7 196.30,274.4 196.55,274.1 196.80,274.3 197.05,274.7 197.30,274.1 197.55,274.4 197.80,273.4 198.05,274.5 198.30,274.5 198.55,274.0 198.80,273.7 199.05,274.8 199.30,274.0 199.55,274.7 199.80,274.1 200.05,274.3 200.30,273.7 200.55,273.2 200.80,274.1 201.05,274.1 201.30,274.5 201.55,274.1 201.80,274.3 202.05,275.1 202.30,275.1 202.55,274.3 202.80,275.1 203.05,274.8 203.30,274.7 203.55,274.6 203.80,274.3 204.05,274.1 204.30,274.3 204.55,274.6 204.80,273.6 205.05,273.5 205.30,273.2 205.55,272.8 205.80,272.6 206.05,271.9 206.30,271.0 206.55,271.6 206.80,270.5 207.05,270.8 207.30,270.1 207.55,269.7 207.80,268.3 208.05,265.8 208.30,262.8 208.55,259.6 208.80,256.9 209.05,254.3 209.30,251.5 209.55,251.8 209.80,252.4 210.05,254.8 210.30,256.8 210.55,260.1 210.80,262.2 211.05,264.6 211.30,265.2 211.55,267.2 211.80,268.4 212.05,268.0 212.30,267.8 212.55,267.1 212.80,267.7 213.05,266.5 213.30,266.7 213.55,265.7 213.80,264.3 214.05,264.2 214.30,262.4 214.55,260.3 214.80,258.0 215.05,254.5 215.30,250.2 215.55,245.8 215.80,239.4 216.05,232.2 216.30,223.8 216.55,214.1 216.80,203.6 217.05,192.1 217.30,180.1 217.55,168.6 217.80,156.6 218.05,148.7 218.30,142.1 218.55,141.3 218.80,144.4 219.05,150.4 219.30,159.9 219.55,172.1 219.80,184.3 220.05,196.2 220.30,207.3 220.55,219.4 220.80,227.6 221.05,235.8 221.30,244.0 221.55,249.0 221.80,253.2 222.05,257.7 222.30,260.0 222.55,262.5 222.80,264.0 223.05,264.7 223.30,266.4 223.55,266.7 223.80,267.0 224.05,267.6 224.30,268.9 224.55,268.7 224.80,269.2 225.05,270.3 225.30,270.7 225.55,270.3 225.80,271.6 226.05,272.0 226.30,272.5 226.55,273.2 226.80,272.3 227.05,272.5 227.30,272.6 227.55,272.1 227.80,273.2 228.05,273.4 228.30,273.0 228.55,274.0 228.80,273.5 229.05,273.2 229.30,274.3 229.55,273.9 229.80,273.9 230.05,273.5 230.30,274.3 230.55,274.0 230.80,273.3 231.05,273.6 231.30,273.6 231.55,273.0 231.80,273.6 232.05,273.6 232.30,273.9 232.55,274.8 232.80,275.0 233.05,275.7 233.30,275.8 233.55,275.9 233.80,275.6 234.05,275.2 234.30,274.3 234.55,274.9 234.80,274.5 235.05,274.1 235.30,273.4 235.55,273.3 235.80,273.7 236.05,273.2 236.30,274.2 236.55,274.3 236.80,274.3 237.05,274.6 237.30,275.0 237.55,274.2 237.80,274.3 238.05,273.7 238.30,273.4 238.55,273.9 238.80,275.5 239.05,273.8 239.30,275.3 239.55,276.0 239.80,274.7 240.05,275.3 240.30,275.1 240.55,274.8 240.80,275.6 241.05,274.6 241.30,273.7 241.55,274.2 241.80,273.9 242.05,273.5 242.30,273.3 242.55,275.0 242.80,273.3 243.05,274.0 243.30,273.8 243.55,274.4 243.80,274.0 244.05,274.1 244.30,273.5 244.55,274.0 244.80,273.9 245.05,274.7 245.30,275.4 245.55,275.0 245.80,275.2 246.05,275.3 246.30,274.7 246.55,274.3 246.80,274.6 247.05,273.9 247.30,275.0 247.55,275.9 247.80,275.0 248.05,275.7 248.30,274.8 248.55,274.5 248.80,274.5 249.05,274.4 249.30,274.9 249.55,275.2 249.80,274.1 250.05,274.4 250.30,274.6 250.55,275.1 250.80,274.3 251.05,275.1 251.30,275.3 251.55,275.1 251.80,274.1 252.05,274.6 252.30,273.9 252.55,275.7 252.80,274.8 253.05,275.2 253.30,275.3 253.55,275.8 253.80,275.7 254.05,275.2 254.30,276.6 254.55,276.0 254.80,276.0 255.05,276.5 255.30,275.4 255.55,275.3 255.80,274.9 256.05,275.5 256.30,275.0 256.55,274.9 256.80,274.3 257.05,274.6 257.30,275.1 257.55,273.8 257.80,274.7 258.05,274.7 258.30,274.6 258.55,274.6 258.80,275.6 259.05,275.1 259.30,275.7 259.55,275.4 259.80,274.9 260.05,275.4 260.30,274.6 260.55,275.0 260.80,274.9 261.05,275.0 261.30,275.3 261.55,275.0 261.80,276.4 262.05,275.5 262.30,275.3 262.55,276.1 262.80,275.7 263.05,275.7 263.30,275.5 263.55,275.2 263.80,276.3 264.05,275.3 264.30,274.8 264.55,274.7 264.80,274.6 265.05,275.7 265.30,275.5 265.55,275.7 265.80,273.7 266.05,275.2 266.30,275.8 266.55,276.0 266.80,275.1 267.05,274.0 267.30,275.1 267.55,274.1 267.80,273.6 268.05,274.4 268.30,275.0 268.55,275.2 268.80,275.2 269.05,274.3 269.30,276.0 269.55,274.5 269.80,274.8 270.05,274.7 270.30,275.6 270.55,275.0 270.80,275.5 271.05,275.3 271.30,275.1 271.55,274.9 271.80,273.7 272.05,274.8 272.30,275.1 272.55,274.1 272.80,274.2 273.05,274.3 273.30,275.2 273.55,275.3 273.80,275.7 274.05,275.3 274.30,275.3 274.55,275.6 274.80,275.6 275.05,275.4 275.30,275.1 275.55,274.8 275.80,274.4 276.05,274.0 276.30,274.7 276.55,274.7 276.80,274.6 277.05,274.8 277.30,274.1 277.55,275.5 277.80,274.5 278.05,274.9 278.30,274.6 278.55,275.3 278.80,274.9 279.05,274.5 279.30,275.6 279.55,275.6 279.80,275.9 280.05,275.6 280.30,275.6 280.55,275.6 280.80,275.4 281.05,274.7 281.30,274.9 281.55,275.2 281.80,275.9 282.05,275.3 282.30,274.6 282.55,274.9 282.80,273.9 283.05,273.8 283.30,273.8 283.55,272.9 283.80,274.2 284.05,274.4 284.30,273.8 284.55,273.7 284.80,274.3 285.05,274.7 285.30,274.2 285.55,273.8 285.80,274.4 286.05,273.6 286.30,273.0 286.55,273.5 286.80,273.3 287.05,273.1 287.30,272.5 287.55,272.1 287.80,271.3 288.05,270.6 288.30,270.2 288.55,270.1 288.80,269.7 289.05,269.4 289.30,269.2 289.55,267.5 289.80,268.8 290.05,269.0 290.30,269.5 290.55,269.0 290.80,270.7 291.05,270.6 291.30,270.2 291.55,270.6 291.80,270.5 292.05,270.7 292.30,271.9 292.55,271.7 292.80,271.7 293.05,272.4 293.30,273.2 293.55,273.3 293.80,274.4 294.05,273.3 294.30,274.4 294.55,274.1 294.80,273.4 295.05,273.5 295.30,274.3 295.55,273.8 295.80,273.4 296.05,274.5 296.30,275.3 296.55,273.6 296.80,274.9 297.05,274.5 297.30,274.9 297.55,275.1 297.80,275.0 298.05,275.6 298.30,275.6 298.55,275.1 298.80,276.2 299.05,274.4 299.30,275.3 299.55,275.4 299.80,275.6 300.05,274.9 300.30,274.9 300.55,274.6 300.80,275.4 301.05,274.7 301.30,275.0 301.55,274.1 301.80,275.3 302.05,275.2 302.30,274.9 302.55,274.6 302.80,275.1 303.05,274.3 303.30,274.4 303.55,275.0 303.80,274.1 304.05,275.6 304.30,274.6 304.55,274.9 304.80,275.2 305.05,275.0 305.30,274.9 305.55,275.0 305.80,274.7 306.05,275.4 306.30,275.1 306.55,275.0 306.80,274.5 307.05,274.0 307.30,272.9 307.55,274.3 307.80,274.5 308.05,274.2 308.30,275.0 308.55,275.8 308.80,275.7 309.05,276.1 309.30,275.7 309.55,275.3 309.80,276.2 310.05,276.1 310.30,276.6 310.55,276.0 310.80,276.3 311.05,276.5 311.30,276.2 311.55,275.8 311.80,276.5 312.05,275.9 312.30,275.5 312.55,275.3 312.80,274.7 313.05,274.8 313.30,275.4 313.55,273.2 313.80,274.5 314.05,274.6 314.30,275.1 314.55,274.1 314.80,274.5 315.05,275.0 315.30,274.1 315.55,273.7 315.80,274.4 316.05,274.1 316.30,275.3 316.55,274.9 316.80,275.6 317.05,275.2 317.30,274.1 317.55,274.3 317.80,274.1 318.05,274.3 318.30,274.7 318.55,274.3 318.80,275.1 319.05,274.7 319.30,275.6 319.55,276.8 319.80,275.3 320.05,276.3 320.30,276.6 320.55,274.8 320.80,275.1 321.05,274.9 321.30,275.3 321.55,274.7 321.80,274.8 322.05,274.7 322.30,274.4 322.55,274.7 322.80,274.8 323.05,275.7 323.30,274.9 323.55,276.3 323.80,275.9 324.05,275.9 324.30,276.1 324.55,275.6 324.80,274.7 325.05,276.2 325.30,275.3 325.55,274.9 325.80,275.7 326.05,275.0 326.30,275.7 326.55,275.4 326.80,275.9 327.05,274.9 327.30,274.4 327.55,274.3 327.80,274.2 328.05,274.7 328.30,274.1 328.55,274.5 328.80,274.1 329.05,274.4 329.30,274.4 329.55,274.5 329.80,274.9 330.05,275.3 330.30,275.3 330.55,275.3 330.80,274.9 331.05,275.5 331.30,276.0 331.55,274.8 331.80,275.9 332.05,276.6 332.30,275.9 332.55,275.5 332.80,276.5 333.05,276.2 333.30,275.2 333.55,275.8 333.80,275.7 334.05,274.4 334.30,276.2 334.55,274.4 334.80,274.9 335.05,274.6 335.30,275.0 335.55,274.4 335.80,275.0 336.05,275.6 336.30,275.2 336.55,274.6 336.80,275.2 337.05,274.6 337.30,275.1 337.55,274.4 337.80,274.4 338.05,274.6 338.30,274.9 338.55,274.6 338.80,273.4 339.05,273.8 339.30,274.3 339.55,274.2 339.80,274.0 340.05,274.3 340.30,274.3 340.55,275.1 340.80,275.3 341.05,275.1 341.30,274.8 341.55,275.1 341.80,274.3 342.05,273.8 342.30,274.9 342.55,273.8 342.80,274.3 343.05,273.9 343.30,274.8 343.55,273.7 343.80,274.6 344.05,274.1 344.30,273.9 344.55,273.9 344.80,275.3 345.05,275.3 345.30,275.8 345.55,276.3 345.80,275.9 346.05,276.1 346.30,275.6 346.55,275.7 346.80,275.4 347.05,275.3 347.30,276.7 347.55,275.1 347.80,275.8 348.05,275.8 348.30,275.3 348.55,274.6 348.80,274.7 349.05,274.7 349.30,274.0 349.55,275.2 349.80,275.1 350.05,275.6 350.30,276.4 350.55,275.1 350.80,275.6 351.05,275.6 351.30,275.0 351.55,275.1 351.80,274.7 352.05,273.9 352.30,274.5 352.55,274.2 352.80,274.4 353.05,275.0 353.30,274.8 353.55,274.4 353.80,275.4 354.05,274.7 354.30,274.9 354.55,275.4 354.80,275.5 355.05,275.3 355.30,275.4 355.55,275.8 355.80,275.3 356.05,274.7 356.30,277.0 356.55,275.9 356.80,275.7 357.05,276.0 357.30,275.3 357.55,276.0 357.80,274.4 358.05,274.0 358.30,274.9 358.55,274.3 358.80,274.9 359.05,273.6 359.30,274.4 359.55,275.0 359.80,275.0 360.05,275.1 360.30,275.5 360.55,276.6 360.80,275.3 361.05,275.6 361.30,276.4 361.55,276.2 361.80,276.1 362.05,275.6 362.30,275.3 362.55,275.0 362.80,274.9 363.05,273.9 363.30,274.4 363.55,273.8 363.80,275.5 364.05,275.1 364.30,274.6 364.55,274.1 364.80,274.2 365.05,275.3 365.30,274.7 365.55,274.3 365.80,273.9 366.05,274.8 366.30,274.0 366.55,274.1 366.80,273.1 367.05,273.5 367.30,275.1 367.55,274.9 367.80,275.0 368.05,275.6 368.30,275.4 368.55,276.2 368.80,274.6 369.05,275.4 369.30,275.4 369.55,274.7 369.80,274.9 370.05,276.1 370.30,275.3 370.55,275.3 370.80,275.6 371.05,274.8 371.30,275.0 371.55,274.4 371.80,274.9 372.05,275.1 372.30,274.8 372.55,274.1 372.80,275.8 373.05,275.4 373.30,275.0 373.55,276.1 373.80,274.8 374.05,276.6 374.30,274.9 374.55,276.0 374.80,275.4 375.05,274.8 375.30,275.1 375.55,274.9 375.80,275.0 376.05,275.6 376.30,274.7 376.55,275.0 376.80,275.3 377.05,275.0 377.30,275.1 377.55,275.0 377.80,275.8 378.05,275.9 378.30,275.4 378.55,274.6 378.80,275.7 379.05,274.3 379.30,275.0 379.55,274.2 379.80,273.6 380.05,274.3 380.30,274.5 380.55,275.1 380.80,275.0 381.05,274.0 381.30,275.1 381.55,274.9 381.80,274.4 382.05,274.2 382.30,275.3 382.55,275.0 382.80,275.3 383.05,275.0 383.30,274.9 383.55,274.4 383.80,274.4 384.05,274.8 384.30,273.8 384.55,273.5 384.80,274.3 385.05,273.9 385.30,274.5 385.55,276.0 385.80,276.8 386.05,275.8 386.30,275.2 386.55,275.7 386.80,274.3 387.05,275.2 387.30,275.9 387.55,275.1 387.80,274.4 388.05,274.2 388.30,275.3 388.55,274.9 388.80,274.6 389.05,275.2 389.30,275.1 389.55,274.4 389.80,275.9 390.05,275.6 390.30,275.6 390.55,275.3 390.80,276.1 391.05,275.4 391.30,276.5 391.55,275.8 391.80,276.2 392.05,275.7 392.30,275.3 392.55,274.6 392.80,275.0 393.05,275.1 393.30,275.9 393.55,273.8 393.80,273.9 394.05,274.9 394.30,275.1 394.55,274.7 394.80,274.9 395.05,274.5 395.30,275.3 395.55,275.4 395.80,275.6 396.05,274.7 396.30,274.6 396.55,275.0 396.80,275.1 397.05,274.5 397.30,274.3 397.55,274.8 397.80,275.2 398.05,274.5 398.30,274.3 398.55,275.7 398.80,275.4 399.05,275.8 399.30,275.4 399.55,275.1 399.80,275.1 400.05,274.9 400.30,274.3 400.55,274.6 400.80,274.3 401.05,274.7 401.30,273.8 401.55,274.6 401.80,273.8 402.05,274.6 402.30,274.4 402.55,274.2 402.80,275.0 403.05,274.6 403.30,274.3 403.55,276.0 403.80,276.3 404.05,276.7 404.30,276.6 404.55,276.1 404.80,275.7 405.05,274.8 405.30,275.7 405.55,275.5 405.80,275.8 406.05,275.1 406.30,275.1 406.55,275.0 406.80,276.0 407.05,276.2 407.30,275.3 407.55,275.0 407.80,275.9 408.05,274.9 408.30,275.0 408.55,274.8 408.80,275.6 409.05,274.8 409.30,274.7 409.55,273.9 409.80,274.8 410.05,275.8 410.30,274.9 410.55,274.8 410.80,275.8 411.05,275.2 411.30,276.0 411.55,276.1 411.80,275.3 412.05,275.2 412.30,275.8 412.55,275.3 412.80,275.2 413.05,275.1 413.30,274.9 413.55,274.4 413.80,274.6 414.05,275.0 414.30,275.4 414.55,275.5 414.80,274.9 415.05,275.9 415.30,275.6 415.55,275.2 415.80,275.6 416.05,275.7 416.30,276.2 416.55,274.5 416.80,275.3 417.05,275.1 417.30,275.2 417.55,275.4 417.80,275.1 418.05,273.8 418.30,274.4 418.55,274.8 418.80,274.2 419.05,275.2 419.30,275.3 419.55,275.6 419.80,276.1 420.05,276.3 420.30,275.2 420.55,274.6 420.80,275.7 421.05,274.8 421.30,274.7 421.55,274.4 421.80,275.9 422.05,275.5 422.30,275.4 422.55,275.0 422.80,274.2 423.05,274.0 423.30,273.9 423.55,274.3 423.80,274.3 424.05,275.4 424.30,274.3 424.55,274.9 424.80,274.4 425.05,275.5 425.30,274.4 425.55,275.2 425.80,275.1 426.05,274.7 426.30,274.8 426.55,274.0 426.80,274.9 427.05,274.2 427.30,275.2 427.55,275.6 427.80,275.2 428.05,275.9 428.30,275.6 428.55,275.1 428.80,275.2 429.05,274.8 429.30,275.1 429.55,276.1 429.80,274.8 430.05,275.0 430.30,274.7 430.55,275.1 430.80,275.0 431.05,274.4 431.30,273.8 431.55,274.4 431.80,276.0 432.05,274.9 432.30,275.2 432.55,274.9 432.80,274.8 433.05,275.4 433.30,275.5 433.55,274.7 433.80,274.8 434.05,275.4 434.30,274.7 434.55,274.7 434.80,274.8 435.05,273.7 435.30,274.3 435.55,274.7 435.80,274.4 436.05,274.9 436.30,274.9 436.55,275.4 436.80,276.0 437.05,275.7 437.30,274.6 437.55,275.1 437.80,276.0 438.05,275.3 438.30,275.0 438.55,275.4 438.80,275.6 439.05,275.3 439.30,275.4 439.55,274.8 439.80,275.2 440.05,275.4 440.30,274.9 440.55,274.2 440.80,275.1 441.05,274.6 441.30,275.8 441.55,275.4 441.80,275.3 442.05,275.2 442.30,274.3 442.55,275.0 442.80,274.8 443.05,275.1 443.30,274.9 443.55,274.9 443.80,275.2 444.05,275.9 444.30,275.0 444.55,276.0 444.80,276.4 445.05,274.4 445.30,275.2 445.55,274.9 445.80,275.3 446.05,275.3 446.30,275.1 446.55,275.1 446.80,275.5 447.05,274.6 447.30,274.6 447.55,274.5 447.80,274.4 448.05,274.8 448.30,274.7 448.55,274.3 448.80,273.8 449.05,274.7 449.30,275.2 449.55,274.5 449.80,274.0 450.05,275.2 450.30,274.9 450.55,273.5 450.80,274.8 451.05,275.5 451.30,275.9 451.55,276.2 451.80,276.2 452.05,276.2 452.30,275.2 452.55,275.8 452.80,276.1 453.05,275.8 453.30,275.0 453.55,275.2 453.80,275.6 454.05,274.5 454.30,274.3 454.55,275.1 454.80,275.4 455.05,274.5 455.30,273.8 455.55,274.7 455.80,274.1 456.05,274.7 456.30,274.3 456.55,274.8 456.80,275.3 457.05,274.5 457.30,275.2 457.55,275.6 457.80,275.5 458.05,276.2 458.30,275.1 458.55,276.0 458.80,275.6 459.05,274.9 459.30,275.3 459.55,275.0 459.80,274.9 460.05,275.0 460.30,275.2 460.55,275.0 460.80,275.1 461.05,274.2 461.30,275.0 461.55,275.6 461.80,275.5 462.05,275.5 462.30,274.7 462.55,274.6 462.80,275.4 463.05,274.9 463.30,274.8 463.55,275.8 463.80,274.6 464.05,276.0 464.30,274.7 464.55,275.5 464.80,275.0 465.05,275.7 465.30,275.4 465.55,275.9 465.80,276.0 466.05,276.0 466.30,276.5 466.55,276.7 466.80,275.7 467.05,276.5 467.30,276.2 467.55,276.1 467.80,277.1 468.05,274.7 468.30,275.1 468.55,274.6 468.80,275.0 469.05,275.3 469.30,277.1 469.55,275.2 469.80,276.0 470.05,276.2 470.30,275.3 470.55,275.6 470.80,275.9 471.05,275.2 471.30,275.7 471.55,275.6 471.80,274.6 472.05,275.1 472.30,275.6 472.55,275.8 472.80,274.8 473.05,274.6 473.30,275.0 473.55,274.9 473.80,275.2 474.05,275.2 474.30,275.3 474.55,274.6 474.80,275.1 475.05,275.9 475.30,274.8 475.55,276.0 475.80,275.5 476.05,275.4 476.30,276.6 476.55,275.3 476.80,274.7 477.05,275.1 477.30,275.0 477.55,276.0 477.80,274.0 478.05,274.7 478.30,274.8 478.55,275.6 478.80,275.0 479.05,274.4 479.30,275.9 479.55,274.6 479.80,274.9 480.05,274.2 480.30,274.5 480.55,274.3 480.80,274.5 481.05,275.1 481.30,274.5 481.55,275.2 481.80,275.3 482.05,275.6 482.30,276.1 482.55,276.2 482.80,275.2 483.05,275.5 483.30,275.4 483.55,275.2 483.80,274.9 484.05,276.1 484.30,275.3 484.55,275.7 484.80,275.4 485.05,276.1 485.30,274.5 485.55,276.3 485.80,275.1 486.05,274.8 486.30,276.1 486.55,277.2 486.80,276.5 487.05,276.0 487.30,276.8 487.55,277.7 487.80,276.3 488.05,276.4 488.30,276.1 488.55,277.0 488.80,275.7 489.05,275.9 489.30,274.8 489.55,274.8 489.80,275.7 490.05,275.2 490.30,274.5 490.55,275.5 490.80,275.5 491.05,274.5 491.30,275.3 491.55,274.8 491.80,274.6 492.05,274.5 492.30,274.4 492.55,274.4 492.80,274.0 493.05,274.2 493.30,273.9 493.55,274.9 493.80,274.6 494.05,274.3 494.30,275.3 494.55,276.1 494.80,275.8 495.05,274.9 495.30,275.8 495.55,275.6 495.80,275.5 496.05,275.4 496.30,275.7 496.55,276.5 496.80,275.9 497.05,275.5 497.30,275.3 497.55,275.2 497.80,275.4 498.05,276.0 498.30,274.7 498.55,275.1 498.80,274.7 499.05,274.5 499.30,275.1 499.55,275.0 499.80,274.4 500.05,274.6 500.30,275.7 500.55,275.4 500.80,275.5 501.05,275.3 501.30,275.2 501.55,275.4 501.80,274.9 502.05,274.4 502.30,275.1 502.55,275.4 502.80,274.3 503.05,275.3 503.30,274.9 503.55,274.4 503.80,274.8 504.05,274.3 504.30,275.0 504.55,274.8 504.80,273.5 505.05,273.7 505.30,274.7 505.55,274.5 505.80,275.3 506.05,275.1 506.30,275.9 506.55,275.1 506.80,276.2 507.05,275.5 507.30,276.2 507.55,276.2 507.80,274.6 508.05,275.2 508.30,274.9 508.55,275.0 508.80,274.7 509.05,274.2 509.30,274.0 509.55,275.4 509.80,275.4 510.05,275.0 510.30,275.0 510.55,276.8 510.80,276.0 511.05,276.0 511.30,275.2 511.55,275.8 511.80,275.8 512.05,274.8 512.30,275.5 512.55,275.4 512.80,275.4 513.05,274.5 513.30,274.5 513.55,275.0 513.80,275.2 514.05,275.7 514.30,275.3 514.55,275.2 514.80,275.5 515.05,276.2 515.30,275.6 515.55,275.6 515.80,275.6 516.05,276.4 516.30,276.2 516.55,276.4 516.80,276.2 517.05,276.2 517.30,276.2 517.55,276.0 517.80,275.9 518.05,275.7 518.30,275.5 518.55,275.1 518.80,275.3 519.05,274.6 519.30,274.4 519.55,275.2 519.80,274.6 520.05,275.3 520.30,274.6 520.55,275.2 520.80,275.1 521.05,274.8 521.30,275.8 521.55,275.1 521.80,275.5 522.05,275.4 522.30,275.3 522.55,276.0 522.80,275.2 523.05,275.4 523.30,274.8 523.55,274.8 523.80,274.6 524.05,274.6 524.30,274.6 524.55,275.1 524.80,275.9 525.05,275.1 525.30,274.9 525.55,274.9 525.80,275.9 526.05,275.2 526.30,274.8 526.55,274.8 526.80,274.1 527.05,274.6 527.30,274.8 527.55,274.7 527.80,274.6 528.05,274.4 528.30,275.2 528.55,275.0 528.80,274.3 529.05,275.1 529.30,276.2 529.55,275.1 529.80,275.7 530.05,274.5 530.30,275.5 530.55,274.5 530.80,274.6 531.05,274.9 531.30,276.6 531.55,275.3 531.80,274.6 532.05,275.4 532.30,275.0 532.55,275.4 532.80,274.2 533.05,273.5 533.30,273.7 533.55,274.5 533.80,274.5 534.05,275.5 534.30,274.5 534.55,274.8 534.80,275.7 535.05,276.2 535.30,276.0 535.55,275.5 535.80,275.0 536.05,276.0 536.30,276.1 536.55,276.6 536.80,275.3 537.05,275.9 537.30,274.6 537.55,274.9 537.80,274.9 538.05,274.2 538.30,273.7 538.55,274.2 538.80,274.3 539.05,274.4 539.30,274.6 539.55,274.2 539.80,274.8 540.05,275.9 540.30,275.3 540.55,275.5 540.80,275.5 541.05,276.1 541.30,276.4 541.55,275.5 541.80,276.2 542.05,276.2 542.30,275.9 542.55,275.1 542.80,274.2 543.05,274.6 543.30,275.0 543.55,275.5 543.80,275.1 544.05,275.2 544.30,275.7 544.55,275.2 544.80,275.9 545.05,275.9 545.30,275.0 545.55,275.9 545.80,275.5 546.05,275.6 546.30,274.9 546.55,274.6 546.80,275.4 547.05,274.9 547.30,274.9 547.55,274.6 547.80,274.6 548.05,274.6 548.30,274.6 548.55,274.7 548.80,275.9 549.05,275.6 549.30,274.5 549.55,275.3 549.80,275.5 550.05,276.1 550.30,274.8 550.55,275.3 550.80,276.2 551.05,275.4 551.30,275.9 551.55,274.1 551.80,275.5 552.05,274.7 552.30,273.9 552.55,274.7 552.80,274.6 553.05,274.7 553.30,274.8 553.55,274.1 553.80,273.8 554.05,273.6 554.30,274.4 554.55,274.6 554.80,274.4 555.05,274.4 555.30,275.0 555.55,274.7 555.80,275.6 556.05,275.3 556.30,274.3 556.55,274.1 556.80,273.7 557.05,274.0 557.30,275.0 557.55,274.3 557.80,273.9 558.05,274.1 558.30,274.5 558.55,274.2 558.80,273.5 559.05,273.6 559.30,273.0 559.55,273.0 559.80,273.2 560.05,271.9 560.30,271.8 560.55,271.1 560.80,270.9 561.05,269.7 561.30,267.3 561.55,266.3 561.80,262.9 562.05,261.3 562.30,257.5 562.55,253.0 562.80,249.0 563.05,244.8 563.30,240.8 563.55,236.4 563.80,233.3 564.05,230.1 564.30,230.3 564.55,230.8 564.80,232.3 565.05,236.3 565.30,240.0 565.55,244.3 565.80,249.2 566.05,253.3 566.30,257.6 566.55,260.0 566.80,263.6 567.05,265.6 567.30,267.0 567.55,268.6 567.80,269.2 568.05,269.5 568.30,271.0 568.55,272.1 568.80,271.9 569.05,271.5 569.30,271.4 569.55,273.2 569.80,273.7 570.05,273.0 570.30,273.6 570.55,274.4 570.80,274.3 571.05,275.2 571.30,275.0 571.55,273.7 571.80,274.2 572.05,274.2 572.30,274.4 572.55,275.0 572.80,273.0 573.05,274.0 573.30,275.0 573.55,275.5 573.80,275.8 574.05,274.5 574.30,274.5 574.55,274.2 574.80,274.6 575.05,273.3 575.30,274.3 575.55,274.5 575.80,274.3 576.05,273.5 576.30,274.7 576.55,275.7 576.80,274.7 577.05,275.6 577.30,275.5 577.55,276.5 577.80,276.1 578.05,275.8 578.30,275.2 578.55,275.9 578.80,275.7 579.05,276.1 579.30,275.4 579.55,275.8 579.80,274.6 580.05,276.0 580.30,274.9 580.55,275.2 580.80,274.9 581.05,275.0 581.30,275.4 581.55,274.7 581.80,275.1 582.05,275.3 582.30,275.8 582.55,275.0 582.80,276.0 583.05,275.8 583.30,275.6 583.55,275.6 583.80,274.8 584.05,276.0 584.30,275.5 584.55,276.0 584.80,274.7 585.05,274.7 585.30,275.4 585.55,274.6 585.80,275.3 586.05,275.1 586.30,275.1 586.55,275.4 586.80,274.7 587.05,275.6 587.30,274.7 587.55,274.0 587.80,275.1 588.05,273.7 588.30,274.3 588.55,274.1 588.80,274.6 589.05,275.8 589.30,275.0 589.55,274.7 589.80,275.3 590.05,276.0 590.30,276.8 590.55,275.2 590.80,275.0 591.05,275.8 591.30,274.6 591.55,275.0 591.80,275.2 592.05,274.5 592.30,274.6 592.55,274.5 592.80,274.2 593.05,274.4 593.30,274.8 593.55,275.7 593.80,275.8 594.05,275.3 594.30,275.4 594.55,275.8 594.80,274.9 595.05,275.3 595.30,274.7 595.55,274.1 595.80,274.2 596.05,274.4 596.30,273.8 596.55,274.3 596.80,274.7 597.05,275.0 597.30,274.5 597.55,275.2 597.80,274.8 598.05,275.1 598.30,274.7 598.55,274.4 598.80,274.9 599.05,275.5 599.30,275.1 599.55,275.1 599.80,275.2 600.05,274.4 600.30,274.8 600.55,274.3 600.80,274.1 601.05,275.1 601.30,274.2 601.55,275.4 601.80,274.8 602.05,275.6 602.30,276.0 602.55,275.6 602.80,275.1 603.05,275.2 603.30,275.2 603.55,274.7 603.80,274.8 604.05,275.7 604.30,276.3 604.55,274.8 604.80,275.5 605.05,275.6 605.30,275.7 605.55,275.0 605.80,275.6 606.05,274.4 606.30,275.5 606.55,275.8 606.80,274.2 607.05,275.4 607.30,275.4 607.55,275.4 607.80,274.8 608.05,274.9 608.30,274.5 608.55,275.4 608.80,275.3 609.05,275.1 609.30,274.6 609.55,274.9 609.80,275.3 610.05,275.5 610.30,275.0 610.55,275.0 610.80,274.4 611.05,273.8 611.30,275.4 611.55,275.5 611.80,274.1 612.05,275.0 612.30,276.0 612.55,276.3 612.80,276.1 613.05,276.3 613.30,275.9 613.55,276.1 613.80,275.9 614.05,274.9 614.30,275.5 614.55,275.5 614.80,275.5 615.05,275.2 615.30,275.6 615.55,274.4 615.80,275.4 616.05,273.6 616.30,274.0 616.55,274.7 616.80,274.0 617.05,274.7 617.30,274.0 617.55,275.5 617.80,275.0 618.05,275.1 618.30,275.4 618.55,275.4 618.80,275.9 619.05,275.7 619.30,275.1 619.55,276.2 619.80,276.6 620.05,276.4 620.30,275.5 620.55,275.9 620.80,275.0 621.05,275.1 621.30,273.8 621.55,274.2 621.80,274.9 622.05,274.7 622.30,274.8 622.55,275.5 622.80,274.8 623.05,275.1 623.30,275.1 623.55,275.3 623.80,275.2 624.05,274.4 624.30,274.2 624.55,275.7 624.80,275.1 625.05,275.5 625.30,274.5 625.55,275.1 625.80,275.3 626.05,275.5 626.30,273.9 626.55,274.7 626.80,274.0 627.05,274.7 627.30,275.4 627.55,275.0 627.80,275.7 628.05,275.6 628.30,276.3 628.55,275.8 628.80,276.0 629.05,275.3 629.30,275.0 629.55,275.3 629.80,274.5 630.05,275.1 630.30,275.5 630.55,274.8 630.80,275.0 631.05,274.9 631.30,275.4 631.55,274.9 631.80,275.0 632.05,275.0 632.30,276.2 632.55,275.2 632.80,274.3 633.05,274.9 633.30,275.0 633.55,274.9 633.80,274.0 634.05,274.9 634.30,274.0 634.55,274.1 634.80,273.2 635.05,273.8 635.30,273.5 635.55,274.5 635.80,273.8 636.05,273.7 636.30,274.4 636.55,274.5 636.80,275.0 637.05,274.4 637.30,274.3 637.55,274.6 637.80,274.6 638.05,273.9 638.30,273.7 638.55,274.6 638.80,274.1 639.05,275.0 639.30,274.2 639.55,273.3 639.80,274.3 640.05,274.6 640.30,273.1 640.55,273.0 640.80,271.6 641.05,271.1 641.30,270.0 641.55,270.8 641.80,270.7 642.05,270.3 642.30,270.1 642.55,270.1 642.80,269.2 643.05,269.2 643.30,268.7 643.55,268.2 643.80,267.1 644.05,266.8 644.30,267.0 644.55,266.7 644.80,265.8 645.05,266.7 645.30,265.9 645.55,267.8 645.80,267.6 646.05,267.6 646.30,266.8 646.55,266.4 646.80,266.9 647.05,267.4 647.30,267.0 647.55,267.5 647.80,267.9 648.05,268.3 648.30,268.3 648.55,268.2 648.80,268.6 649.05,269.0 649.30,270.0 649.55,270.6 649.80,270.8 650.05,270.2 650.30,270.5 650.55,271.7 650.80,271.3 651.05,271.6 651.30,272.2 651.55,272.0 651.80,271.9 652.05,272.6 652.30,272.8 652.55,272.9 652.80,273.7 653.05,273.1 653.30,274.5 653.55,274.7 653.80,273.5 654.05,274.9 654.30,273.7 654.55,274.5 654.80,274.1 655.05,273.4 655.30,274.0 655.55,273.9 655.80,274.2 656.05,274.4 656.30,274.4 656.55,275.1 656.80,274.8 657.05,275.3 657.30,274.2 657.55,275.2 657.80,274.9 658.05,275.1 658.30,274.3 658.55,275.7 658.80,274.1 659.05,274.6 659.30,274.2 659.55,275.6 659.80,274.6 660.05,275.7 660.30,275.0 660.55,275.3 660.80,274.4 661.05,274.4 661.30,273.8 661.55,273.4 661.80,273.8 662.05,273.2 662.30,273.6 662.55,274.6 662.80,273.7 663.05,274.4 663.30,274.2 663.55,274.2 663.80,274.4 664.05,274.6 664.30,274.3 664.55,275.1 664.80,275.8 665.05,275.6 665.30,275.3 665.55,274.9 665.80,274.7 666.05,274.8 666.30,274.9 666.55,275.4 666.80,275.4 667.05,275.7 667.30,275.1 667.55,275.4 667.80,275.5 668.05,276.5 668.30,274.4 668.55,274.9 668.80,274.9 669.05,275.1 669.30,276.1 669.55,275.6 669.80,275.7 670.05,275.0 670.30,275.8 670.55,275.6 670.80,275.7 671.05,275.5 671.30,275.1 671.55,275.6 671.80,276.3 672.05,276.2 672.30,275.5 672.55,274.6 672.80,276.3 673.05,276.3 673.30,275.4 673.55,275.2 673.80,275.5 674.05,275.0 674.30,275.5 674.55,274.6 674.80,274.7 675.05,275.4 675.30,275.2 675.55,276.0 675.80,276.0 676.05,275.4 676.30,276.1 676.55,275.5 676.80,275.6 677.05,275.1 677.30,274.9 677.55,274.6 677.80,274.0 678.05,274.5 678.30,274.7 678.55,275.7 678.80,275.2 679.05,274.4 679.30,275.6 679.55,275.4 679.80,275.2 680.05,275.5 680.30,275.7 680.55,275.1 680.80,275.2 681.05,275.4 681.30,274.8 681.55,275.6 681.80,275.5 682.05,275.0 682.30,275.1 682.55,275.3 682.80,275.7 683.05,275.5 683.30,274.6"/>
<path stroke="#1f6fe0" d="M54.30,160.3 54.55,160.4 54.80,160.4 55.05,160.2 55.30,160.1 55.55,160.1 55.80,160.0 56.05,160.2 56.30,159.8 56.55,159.4 56.80,159.7 57.05,159.8 57.30,159.3 57.55,158.7 57.80,159.3 58.05,159.1 58.30,158.3 58.55,159.0 58.80,158.2 59.05,158.9 59.30,159.0 59.55,159.6 59.80,159.3 60.05,159.8 60.30,159.7 60.55,159.8 60.80,158.6 61.05,159.1 61.30,159.6 61.55,159.5 61.80,159.0 62.05,159.3 62.30,158.8 62.55,159.1 62.80,160.3 63.05,159.3 63.30,160.0 63.55,160.3 63.80,159.6 64.05,160.0 64.30,159.7 64.55,159.5 64.80,159.0 65.05,159.6 65.30,160.6 65.55,159.3 65.80,160.6 66.05,160.4 66.30,160.2 66.55,161.6 66.80,160.8 67.05,160.1 67.30,160.8 67.55,160.5 67.80,160.4 68.05,160.6 68.30,160.1 68.55,159.8 68.80,159.9 69.05,159.0 69.30,159.8 69.55,159.4 69.80,160.1 70.05,159.6 70.30,160.6 70.55,160.4 70.80,160.7 71.05,160.8 71.30,159.6 71.55,159.3 71.80,160.0 72.05,158.6 72.30,159.3 72.55,159.6 72.80,159.9 73.05,159.3 73.30,158.9 73.55,159.1 73.80,158.9 74.05,159.9 74.30,159.1 74.55,159.3 74.80,159.7 75.05,159.6 75.30,159.3 75.55,159.3 75.80,159.6 76.05,159.1 76.30,159.9 76.55,160.1 76.80,159.9 77.05,160.1 77.30,159.6 77.55,160.3 77.80,160.2 78.05,160.1 78.30,159.1 78.55,159.7 78.80,158.7 79.05,158.5 79.30,159.3 79.55,158.8 79.80,159.5 80.05,160.2 80.30,158.8 80.55,159.2 80.80,159.6 81.05,159.9 81.30,159.5 81.55,159.1 81.80,159.8 82.05,159.8 82.30,159.4 82.55,159.9 82.80,159.6 83.05,159.5 83.30,160.2 83.55,159.4 83.80,160.6 84.05,159.9 84.30,159.9 84.55,159.9 84.80,160.3 85.05,159.6 85.30,160.5 85.55,160.5 85.80,159.1 86.05,160.5 86.30,159.6 86.55,160.4 86.80,159.7 87.05,160.2 87.30,160.0 87.55,159.8 87.80,160.9 88.05,160.8 88.30,160.1 88.55,160.2 88.80,160.3 89.05,160.2 89.30,160.6 89.55,159.8 89.80,160.4 90.05,159.9 90.30,159.7 90.55,159.5 90.80,160.7 91.05,160.4 91.30,160.5 91.55,159.7 91.80,159.3 92.05,159.3 92.30,159.2 92.55,159.2 92.80,159.0 93.05,160.0 93.30,159.5 93.55,160.2 93.80,161.3 94.05,160.0 94.30,159.7 94.55,160.0 94.80,159.7 95.05,158.2 95.30,158.5 95.55,158.3 95.80,157.7 96.05,158.7 96.30,158.6 96.55,158.8 96.80,158.8 97.05,159.6 97.30,159.3 97.55,159.8 97.80,159.4 98.05,159.7 98.30,161.0 98.55,160.0 98.80,159.9 99.05,159.9 99.30,159.2 99.55,159.3 99.80,159.6 100.05,158.9 100.30,158.9 100.55,159.4 100.80,159.7 101.05,159.8 101.30,159.8 101.55,159.0 101.80,158.7 102.05,159.7 102.30,159.9 102.55,159.5 102.80,160.1 103.05,160.1 103.30,160.4 103.55,160.1 103.80,159.4 104.05,160.0 104.30,159.0 104.55,159.3 104.80,159.6 105.05,159.5 105.30,160.2 105.55,160.3 105.80,159.2 106.05,158.5 106.30,160.2 106.55,159.2 106.80,159.8 107.05,159.9 107.30,158.4 107.55,157.8 107.80,159.4 108.05,158.9 108.30,158.4 108.55,158.5 108.80,158.6 109.05,158.6 109.30,159.3 109.55,159.1 109.80,159.0 110.05,160.2 110.30,159.9 110.55,159.5 110.80,158.7 111.05,158.9 111.30,158.4 111.55,158.5 111.80,159.1 112.05,158.8 112.30,159.6 112.55,159.6 112.80,160.1 113.05,158.5 113.30,159.3 113.55,158.6 113.80,158.5 114.05,157.6 114.30,158.0 114.55,159.0 114.80,158.7 115.05,158.9 115.30,158.9 115.55,159.6 115.80,159.1 116.05,158.3 116.30,159.4 116.55,158.6 116.80,158.4 117.05,159.8 117.30,161.0 117.55,160.4 117.80,160.2 118.05,160.0 118.30,161.0 118.55,160.3 118.80,160.1 119.05,159.8 119.30,160.0 119.55,160.2 119.80,159.9 120.05,159.6 120.30,159.2 120.55,159.9 120.80,159.6 121.05,160.2 121.30,159.1 121.55,159.9 121.80,160.4 122.05,159.5 122.30,160.7 122.55,160.4 122.80,159.4 123.05,159.6 123.30,159.6 123.55,157.8 123.80,159.2 124.05,159.2 124.30,159.5 124.55,159.4 124.80,159.8 125.05,159.6 125.30,160.5 125.55,160.1 125.80,159.7 126.05,160.3 126.30,159.5 126.55,159.5 126.80,158.4 127.05,159.4 127.30,159.1 127.55,159.2 127.80,159.0 128.05,158.5 128.30,158.6 128.55,158.9 128.80,159.0 129.05,159.3 129.30,159.9 129.55,159.8 129.80,159.7 130.05,159.5 130.30,159.2 130.55,160.3 130.80,159.5 131.05,159.3 131.30,158.5 131.55,158.2 131.80,158.7 132.05,159.2 132.30,158.4 132.55,158.6 132.80,158.7 133.05,159.0 133.30,158.2 133.55,158.8 133.80,158.9 134.05,160.0 134.30,159.5 134.55,159.7 134.80,159.9 135.05,159.0 135.30,159.3 135.55,159.5 135.80,159.5 136.05,158.9 136.30,159.9 136.55,160.7 136.80,159.7 137.05,159.6 137.30,159.1 137.55,159.5 137.80,159.0 138.05,159.2 138.30,160.2 138.55,159.4 138.80,160.3 139.05,160.5 139.30,160.3 139.55,160.5 139.80,161.0 140.05,160.3 140.30,159.6 140.55,159.1 140.80,159.3 141.05,159.9 141.30,159.1 141.55,158.4 141.80,158.2 142.05,158.4 142.30,158.8 142.55,159.1 142.80,159.1 143.05,159.9 143.30,159.5 143.55,160.0 143.80,160.2 144.05,160.2 144.30,160.4 144.55,160.9 144.80,159.9 145.05,159.6 145.30,158.7 145.55,159.8 145.80,158.5 146.05,158.6 146.30,159.9 146.55,159.5 146.80,159.0 147.05,158.5 147.30,158.6 147.55,158.4 147.80,159.2 148.05,159.5 148.30,159.4 148.55,158.6 148.80,158.4 149.05,159.7 149.30,159.9 149.55,159.3 149.80,160.3 150.05,159.1 150.30,160.7 150.55,160.2 150.80,159.9 151.05,159.2 151.30,159.5 151.55,159.0 151.80,159.1 152.05,158.7 152.30,158.7 152.55,158.8 152.80,159.3 153.05,159.1 153.30,159.2 153.55,159.4 153.80,158.4 154.05,158.5 154.30,159.0 154.55,159.3 154.80,159.1 155.05,159.9 155.30,159.8 155.55,159.1 155.80,159.2 156.05,159.6 156.30,159.7 156.55,158.6 156.80,160.5 157.05,160.2 157.30,160.7 157.55,160.0 157.80,160.3 158.05,159.8 158.30,161.6 158.55,160.1 158.80,160.5 159.05,159.4 159.30,160.0 159.55,159.2 159.80,159.7 160.05,160.3 160.30,159.0 160.55,160.2 160.80,159.9 161.05,158.6 161.30,159.0 161.55,158.8 161.80,158.7 162.05,158.4 162.30,158.4 162.55,158.7 162.80,158.8 163.05,158.2 163.30,159.0 163.55,159.2 163.80,158.3 164.05,158.9 164.30,158.7 164.55,158.9 164.80,160.1 165.05,159.6 165.30,160.9 165.55,159.7 165.80,160.4 166.05,160.3 166.30,159.4 166.55,160.1 166.80,159.8 167.05,160.3 167.30,160.1 167.55,159.2 167.80,159.2 168.05,159.9 168.30,160.2 168.55,159.0 168.80,159.2 169.05,158.3 169.30,159.3 169.55,158.3 169.80,157.3 170.05,158.1 170.30,158.9 170.55,157.6 170.80,157.9 171.05,158.5 171.30,158.4 171.55,159.3 171.80,158.6 172.05,158.4 172.30,158.9 172.55,158.2 172.80,158.6 173.05,158.1 173.30,157.9 173.55,158.2 173.80,159.9 174.05,158.7 174.30,159.0 174.55,159.1 174.80,159.5 175.05,159.3 175.30,160.0 175.55,158.7 175.80,158.6 176.05,158.7 176.30,158.4 176.55,159.4 176.80,159.7 177.05,158.7 177.30,158.9 177.55,159.5 177.80,160.6 178.05,158.5 178.30,159.6 178.55,158.9 178.80,159.6 179.05,158.4 179.30,158.7 179.55,157.9 179.80,158.3 180.05,159.9 180.30,159.0 180.55,158.8 180.80,159.0 181.05,158.5 181.30,159.3 181.55,159.6 181.80,159.6 182.05,159.8 182.30,159.1 182.55,159.1 182.80,159.2 183.05,159.7 183.30,159.9 183.55,158.6 183.80,158.5 184.05,158.6 184.30,158.2 184.55,158.0 184.80,158.2 185.05,157.3 185.30,158.4 185.55,158.0 185.80,158.0 186.05,158.0 186.30,157.6 186.55,157.6 186.80,158.1 187.05,157.7 187.30,158.0 187.55,158.0 187.80,157.2 188.05,158.3 188.30,157.1 188.55,157.4 188.80,157.5 189.05,156.4 189.30,157.2 189.55,157.6 189.80,156.9 190.05,157.6 190.30,157.6 190.55,157.2 190.80,157.7 191.05,157.9 191.30,157.9 191.55,157.4 191.80,157.6 192.05,157.4 192.30,157.4 192.55,157.3 192.80,157.3 193.05,155.9 193.30,156.8 193.55,156.5 193.80,156.3 194.05,155.8 194.30,155.1 194.55,155.4 194.80,156.1 195.05,155.8 195.30,156.2 195.55,155.4 195.80,157.0 196.05,157.4 196.30,157.2 196.55,156.4 196.80,155.0 197.05,155.5 197.30,155.0 197.55,153.5 197.80,154.3 198.05,153.6 198.30,153.6 198.55,154.4 198.80,154.7 199.05,153.8 199.30,153.5 199.55,154.5 199.80,153.9 200.05,152.9 200.30,152.6 200.55,152.6 200.80,152.7 201.05,153.3 201.30,153.2 201.55,152.8 201.80,153.0 202.05,151.5 202.30,151.8 202.55,152.0 202.80,151.5 203.05,151.3 203.30,150.8 203.55,150.5 203.80,150.8 204.05,149.6 204.30,149.4 204.55,149.9 204.80,149.1 205.05,148.5 205.30,146.9 205.55,147.2 205.80,146.9 206.05,145.7 206.30,143.9 206.55,143.7 206.80,143.1 207.05,141.9 207.30,139.2 207.55,137.5 207.80,135.5 208.05,131.7 208.30,131.4 208.55,130.0 208.80,127.8 209.05,126.4 209.30,124.8 209.55,124.1 209.80,125.0 210.05,126.4 210.30,128.3 210.55,131.2 210.80,134.1 211.05,136.6 211.30,137.3 211.55,139.1 211.80,140.6 212.05,142.4 212.30,142.3 212.55,143.2 212.80,142.1 213.05,142.4 213.30,142.2 213.55,142.9 213.80,142.8 214.05,141.8 214.30,142.5 214.55,143.4 214.80,142.6 215.05,142.0 215.30,142.7 215.55,142.2 215.80,142.0 216.05,141.4 216.30,141.7 216.55,141.6 216.80,142.0 217.05,141.0 217.30,141.1 217.55,141.2 217.80,140.6 218.05,141.2 218.30,140.9 218.55,140.5 218.80,141.3 219.05,141.4 219.30,142.1 219.55,141.5 219.80,141.7 220.05,142.5 220.30,143.4 220.55,144.0 220.80,143.8 221.05,144.8 221.30,146.0 221.55,145.9 221.80,146.0 222.05,147.1 222.30,147.2 222.55,147.0 222.80,147.3 223.05,147.8 223.30,149.0 223.55,148.5 223.80,148.7 224.05,149.6 224.30,150.1 224.55,149.6 224.80,150.8 225.05,151.0 225.30,151.6 225.55,152.2 225.80,153.4 226.05,153.2 226.30,153.1 226.55,153.1 226.80,153.2 227.05,154.1 227.30,153.2 227.55,153.7 227.80,154.3 228.05,155.8 228.30,155.4 228.55,155.1 228.80,155.7 229.05,156.4 229.30,155.1 229.55,155.0 229.80,155.5 230.05,155.3 230.30,155.2 230.55,154.3 230.80,155.6 231.05,155.9 231.30,155.6 231.55,155.8 231.80,155.0 232.05,156.1 232.30,156.0 232.55,156.2 232.80,156.4 233.05,156.2 233.30,156.1 233.55,157.0 233.80,156.5 234.05,157.0 234.30,157.0 234.55,157.2 234.80,156.0 235.05,157.5 235.30,157.3 235.55,158.0 235.80,158.7 236.05,158.0 236.30,157.0 236.55,157.8 236.80,158.0 237.05,158.5 237.30,158.8 237.55,158.1 237.80,159.4 238.05,159.2 238.30,160.4 238.55,160.0 238.80,160.0 239.05,160.1 239.30,159.5 239.55,159.3 239.80,158.5 240.05,159.2 240.30,160.1 240.55,159.9 240.80,160.1 241.05,159.9 241.30,159.4 241.55,160.5 241.80,160.1 242.05,160.2 242.30,159.9 242.55,159.6 242.80,159.6 243.05,159.9 243.30,159.5 243.55,159.3 243.80,160.6 244.05,159.7 244.30,160.0 244.55,160.2 244.80,160.5 245.05,159.2 245.30,159.6 245.55,159.8 245.80,159.5 246.05,159.0 246.30,159.9 246.55,159.0 246.80,159.5 247.05,159.3 247.30,160.4 247.55,158.8 247.80,159.8 248.05,159.7 248.30,160.1 248.55,160.0 248.80,160.1 249.05,158.7 249.30,159.6 249.55,159.0 249.80,158.8 250.05,159.1 250.30,158.4 250.55,158.6 250.80,159.3 251.05,158.8 251.30,159.1 251.55,159.4 251.80,159.4 252.05,160.2 252.30,159.4 252.55,158.7 252.80,159.2 253.05,159.2 253.30,159.1 253.55,159.9 253.80,159.3 254.05,158.5 254.30,160.0 254.55,159.6 254.80,159.8 255.05,159.7 255.30,160.0 255.55,160.0 255.80,160.3 256.05,160.1 256.30,160.1 256.55,159.9 256.80,158.9 257.05,159.3 257.30,159.1 257.55,159.2 257.80,158.2 258.05,159.6 258.30,159.2 258.55,158.4 258.80,158.7 259.05,159.4 259.30,159.6 259.55,159.7 259.80,160.0 260.05,159.5 260.30,160.7 260.55,159.6 260.80,159.9 261.05,160.6 261.30,160.9 261.55,159.2 261.80,159.7 262.05,159.5 262.30,160.3 262.55,159.4 262.80,159.7 263.05,160.1 263.30,159.5 263.55,159.5 263.80,159.3 264.05,158.8 264.30,159.3 264.55,159.9 264.80,160.2 265.05,160.3 265.30,159.3 265.55,159.8 265.80,160.4 266.05,160.0 266.30,159.5 266.55,158.9 266.80,159.8 267.05,159.9 267.30,159.6 267.55,159.8 267.80,160.8 268.05,160.5 268.30,161.1 268.55,160.1 268.80,160.3 269.05,159.7 269.30,159.7 269.55,161.0 269.80,159.9 270.05,159.3 270.30,159.5 270.55,159.9 270.80,160.3 271.05,159.9 271.30,159.1 271.55,160.0 271.80,160.0 272.05,160.0 272.30,160.4 272.55,160.1 272.80,159.7 273.05,159.1 273.30,159.6 273.55,160.4 273.80,159.4 274.05,159.0 274.30,158.4 274.55,159.8 274.80,158.3 275.05,159.0 275.30,158.9 275.55,159.1 275.80,158.7 276.05,159.4 276.30,158.8 276.55,159.4 276.80,159.2 277.05,158.8 277.30,159.6 277.55,160.1 277.80,159.5 278.05,160.0 278.30,160.2 278.55,159.4 278.80,159.8 279.05,159.6 279.30,160.3 279.55,160.3 279.80,160.0 280.05,158.9 280.30,159.8 280.55,159.2 280.80,159.0 281.05,160.0 281.30,158.6 281.55,159.6 281.80,159.2 282.05,159.8 282.30,159.5 282.55,158.7 282.80,159.1 283.05,159.8 283.30,159.5 283.55,159.2 283.80,158.6 284.05,158.0 284.30,159.8 284.55,159.4 284.80,158.7 285.05,158.5 285.30,159.5 285.55,158.7 285.80,158.0 286.05,157.6 286.30,158.3 286.55,156.8 286.80,157.4 287.05,155.9 287.30,155.0 287.55,155.9 287.80,154.9 288.05,153.4 288.30,153.3 288.55,153.6 288.80,153.1 289.05,152.0 289.30,152.1 289.55,152.5 289.80,152.0 290.05,152.7 290.30,152.9 290.55,153.4 290.80,154.2 291.05,155.1 291.30,155.7 291.55,156.1 291.80,156.7 292.05,157.7 292.30,157.8 292.55,158.4 292.80,158.8 293.05,158.2 293.30,158.6 293.55,157.5 293.80,158.6 294.05,158.3 294.30,159.0 294.55,159.3 294.80,157.9 295.05,158.8 295.30,159.7 295.55,159.5 295.80,159.2 296.05,158.8 296.30,158.7 296.55,158.5 296.80,158.3 297.05,158.7 297.30,157.6 297.55,159.1 297.80,158.6 298.05,159.8 298.30,159.5 298.55,159.3 298.80,159.9 299.05,159.0 299.30,158.9 299.55,158.8 299.80,159.3 300.05,159.8 300.30,160.3 300.55,159.6 300.80,160.3 301.05,159.4 301.30,159.3 301.55,159.6 301.80,159.3 302.05,158.4 302.30,158.6 302.55,158.6 302.80,159.1 303.05,158.5 303.30,159.6 303.55,159.0 303.80,159.3 304.05,159.0 304.30,159.7 304.55,159.9 304.80,159.6 305.05,160.4 305.30,159.9 305.55,160.7 305.80,159.8 306.05,159.1 306.30,159.4 306.55,160.0 306.80,159.7 307.05,159.5 307.30,159.0 307.55,158.7 307.80,159.5 308.05,158.5 308.30,159.3 308.55,158.9 308.80,159.1 309.05,159.6 309.30,159.5 309.55,158.6 309.80,158.5 310.05,159.0 310.30,158.6 310.55,158.7 310.80,159.8 311.05,158.8 311.30,159.4 311.55,158.3 311.80,158.9 312.05,159.0 312.30,159.5 312.55,159.8 312.80,160.2 313.05,159.4 313.30,159.5 313.55,158.9 313.80,159.2 314.05,158.8 314.30,159.5 314.55,159.3 314.80,160.5 315.05,158.8 315.30,159.7 315.55,160.2 315.80,159.6 316.05,159.4 316.30,159.7 316.55,159.1 316.80,159.9 317.05,161.0 317.30,160.6 317.55,159.8 317.80,159.7 318.05,160.0 318.30,160.5 318.55,159.6 318.80,159.5 319.05,160.2 319.30,160.0 319.55,159.5 319.80,158.7 320.05,158.4 320.30,159.2 320.55,158.6 320.80,159.8 321.05,159.3 321.30,159.9 321.55,160.9 321.80,160.7 322.05,159.2 322.30,160.1 322.55,161.1 322.80,160.2 323.05,159.8 323.30,160.1 323.55,159.4 323.80,160.8 324.05,159.3 324.30,159.3 324.55,159.4 324.80,159.6 325.05,159.8 325.30,159.8 325.55,159.2 325.80,159.6 326.05,157.9 326.30,159.1 326.55,158.4 326.80,158.9 327.05,159.0 327.30,158.6 327.55,158.7 327.80,159.3 328.05,159.3 328.30,158.6 328.55,159.8 328.80,159.5 329.05,158.0 329.30,159.1 329.55,160.1 329.80,159.2 330.05,159.2 330.30,159.5 330.55,159.8 330.80,160.2 331.05,159.7 331.30,160.2 331.55,159.8 331.80,159.9 332.05,159.2 332.30,159.6 332.55,158.8 332.80,159.5 333.05,160.2 333.30,159.8 333.55,159.8 333.80,159.9 334.05,159.6 334.30,159.9 334.55,159.9 334.80,160.5 335.05,159.7 335.30,161.0 335.55,159.8 335.80,159.8 336.05,159.7 336.30,159.4 336.55,159.5 336.80,158.8 337.05,159.4 337.30,159.2 337.55,158.6 337.80,159.2 338.05,158.5 338.30,159.7 338.55,160.3 338.80,160.6 339.05,159.6 339.30,159.4 339.55,160.8 339.80,160.7 340.05,160.0 340.30,160.9 340.55,161.1 340.80,160.9 341.05,160.4 341.30,160.1 341.55,159.9 341.80,159.8 342.05,159.7 342.30,160.6 342.55,160.0 342.80,160.4 343.05,160.7 343.30,161.6 343.55,159.8 343.80,159.7 344.05,158.9 344.30,159.0 344.55,159.3 344.80,159.2 345.05,159.3 345.30,159.0 345.55,159.5 345.80,160.4 346.05,160.0 346.30,159.2 346.55,159.3 346.80,159.4 347.05,159.5 347.30,158.9 347.55,159.4 347.80,158.9 348.05,159.7 348.30,160.5 348.55,158.5 348.80,159.6 349.05,160.0 349.30,159.4 349.55,158.9 349.80,159.4 350.05,159.4 350.30,159.7 350.55,158.9 350.80,159.7 351.05,159.9 351.30,160.4 351.55,160.6 351.80,160.8 352.05,160.6 352.30,160.1 352.55,160.8 352.80,160.9 353.05,161.2 353.30,161.2 353.55,160.7 353.80,161.0 354.05,161.3 354.30,160.1 354.55,160.3 354.80,159.7 355.05,159.5 355.30,159.0 355.55,158.9 355.80,159.5 356.05,159.7 356.30,160.1 356.55,159.2 356.80,159.2 357.05,159.1 357.30,159.7 357.55,159.2 357.80,159.7 358.05,159.7 358.30,159.2 358.55,158.7 358.80,158.6 359.05,158.6 359.30,158.5 359.55,159.5 359.80,159.5 360.05,158.5 360.30,159.9 360.55,160.0 360.80,159.3 361.05,159.5 361.30,159.5 361.55,159.5 361.80,159.9 362.05,159.6 362.30,160.0 362.55,160.0 362.80,159.8 363.05,159.7 363.30,158.5 363.55,159.1 363.80,159.2 364.05,158.9 364.30,159.3 364.55,158.5 364.80,158.8 365.05,160.6 365.30,160.3 365.55,160.1 365.80,160.3 366.05,160.2 366.30,160.1 366.55,158.3 366.80,158.9 367.05,158.9 367.30,159.0 367.55,159.5 367.80,160.3 368.05,159.6 368.30,159.0 368.55,160.3 368.80,159.1 369.05,158.9 369.30,159.6 369.55,159.4 369.80,158.7 370.05,160.0 370.30,159.5 370.55,159.2 370.80,159.3 371.05,159.8 371.30,159.1 371.55,159.3 371.80,159.1 372.05,160.4 372.30,159.0 372.55,160.1 372.80,159.6 373.05,159.9 373.30,160.5 373.55,160.4 373.80,160.4 374.05,160.3 374.30,159.9 374.55,159.9 374.80,160.1 375.05,159.9 375.30,160.6 375.55,160.4 375.80,160.4 376.05,160.5 376.30,159.8 376.55,159.2 376.80,159.4 377.05,159.2 377.30,160.5 377.55,159.3 377.80,160.5 378.05,160.3 378.30,160.6 378.55,160.2 378.80,159.6 379.05,159.7 379.30,159.9 379.55,159.4 379.80,158.8 380.05,158.8 380.30,160.0 380.55,158.6 380.80,159.6 381.05,158.9 381.30,159.7 381.55,160.2 381.80,160.0 382.05,160.3 382.30,159.5 382.55,160.5 382.80,160.1 383.05,160.5 383.30,160.2 383.55,158.7 383.80,159.6 384.05,159.8 384.30,160.8 384.55,160.3 384.80,160.5 385.05,159.7 385.30,161.2 385.55,161.4 385.80,160.4 386.05,159.8 386.30,159.1 386.55,159.9 386.80,160.4 387.05,159.4 387.30,159.4 387.55,158.7 387.80,158.4 388.05,159.2 388.30,158.3 388.55,159.3 388.80,159.9 389.05,160.4 389.30,160.7 389.55,160.6 389.80,160.1 390.05,159.9 390.30,160.0 390.55,159.3 390.80,159.1 391.05,159.0 391.30,159.2 391.55,158.5 391.80,158.9 392.05,159.3 392.30,160.4 392.55,160.7 392.80,161.3 393.05,159.7 393.30,160.1 393.55,160.6 393.80,159.8 394.05,159.9 394.30,160.5 394.55,159.5 394.80,159.3 395.05,159.5 395.30,160.3 395.55,160.6 395.80,159.5 396.05,159.6 396.30,160.3 396.55,160.2 396.80,159.7 397.05,160.0 397.30,160.1 397.55,158.9 397.80,159.6 398.05,160.2 398.30,159.9 398.55,158.9 398.80,159.7 399.05,159.9 399.30,160.3 399.55,159.1 399.80,161.1 400.05,159.3 400.30,160.0 400.55,160.3 400.80,159.9 401.05,159.9 401.30,158.8 401.55,159.7 401.80,158.9 402.05,158.2 402.30,161.0 402.55,160.1 402.80,160.1 403.05,159.0 403.30,159.7 403.55,159.8 403.80,160.1 404.05,159.0 404.30,158.8 404.55,159.4 404.80,158.7 405.05,159.4 405.30,160.2 405.55,159.5 405.80,159.9 406.05,159.8 406.30,161.1 406.55,160.2 406.80,159.5 407.05,159.9 407.30,158.9 407.55,158.9 407.80,159.9 408.05,158.7 408.30,159.4 408.55,158.7 408.80,159.8 409.05,160.2 409.30,159.5 409.55,160.0 409.80,159.4 410.05,159.2 410.30,159.4 410.55,160.3 410.80,161.0 411.05,160.4 411.30,159.4 411.55,160.2 411.80,159.7 412.05,160.1 412.30,160.0 412.55,160.3 412.80,160.4 413.05,159.7 413.30,159.3 413.55,158.9 413.80,159.5 414.05,158.9 414.30,158.8 414.55,158.0 414.80,158.7 415.05,159.1 415.30,158.1 415.55,158.2 415.80,158.5 416.05,159.7 416.30,160.2 416.55,159.5 416.80,159.5 417.05,160.5 417.30,159.1 417.55,159.9 417.80,158.7 418.05,157.9 418.30,160.2 418.55,159.6 418.80,158.2 419.05,158.8 419.30,158.9 419.55,159.3 419.80,158.3 420.05,158.6 420.30,159.4 420.55,158.9 420.80,159.2 421.05,158.7 421.30,159.5 421.55,158.1 421.80,158.2 422.05,156.8 422.30,157.5 422.55,158.9 422.80,157.6 423.05,158.4 423.30,158.1 423.55,157.8 423.80,157.8 424.05,157.5 424.30,157.3 424.55,158.0 424.80,157.5 425.05,157.3 425.30,156.9 425.55,157.3 425.80,157.0 426.05,157.0 426.30,157.4 426.55,156.8 426.80,156.0 427.05,156.0 427.30,155.7 427.55,155.7 427.80,155.5 428.05,155.7 428.30,155.4 428.55,155.7 428.80,155.0 429.05,155.1 429.30,154.2 429.55,155.4 429.80,154.7 430.05,155.4 430.30,155.0 430.55,155.4 430.80,154.8 431.05,155.5 431.30,156.6 431.55,154.6 431.80,155.3 432.05,155.3 432.30,154.5 432.55,154.3 432.80,154.4 433.05,153.3 433.30,154.0 433.55,153.6 433.80,153.7 434.05,153.6 434.30,153.6 434.55,153.4 434.80,153.6 435.05,152.5 435.30,153.9 435.55,153.3 435.80,153.4 436.05,152.7 436.30,152.9 436.55,153.0 436.80,152.6 437.05,151.6 437.30,153.0 437.55,153.6 437.80,151.6 438.05,152.9 438.30,152.5 438.55,152.6 438.80,153.2 439.05,151.5 439.30,151.9 439.55,152.4 439.80,151.5 440.05,151.4 440.30,151.0 440.55,150.9 440.80,152.3 441.05,151.3 441.30,151.8 441.55,150.5 441.80,151.2 442.05,151.0 442.30,149.6 442.55,150.2 442.80,149.5 443.05,150.0 443.30,150.6 443.55,149.3 443.80,149.2 444.05,150.1 444.30,149.7 444.55,150.3 444.80,149.8 445.05,149.5 445.30,150.2 445.55,151.4 445.80,151.7 446.05,151.5 446.30,151.6 446.55,151.1 446.80,151.3 447.05,152.4 447.30,151.3 447.55,151.1 447.80,151.5 448.05,152.1 448.30,152.6 448.55,151.9 448.80,151.4 449.05,151.6 449.30,150.2 449.55,150.4 449.80,151.3 450.05,150.8 450.30,151.8 450.55,152.6 450.80,152.3 451.05,152.3 451.30,153.4 451.55,152.6 451.80,151.9 452.05,152.3 452.30,152.1 452.55,151.9 452.80,152.5 453.05,152.1 453.30,151.6 453.55,152.3 453.80,152.3 454.05,152.1 454.30,151.5 454.55,152.0 454.80,152.6 455.05,152.7 455.30,152.1 455.55,153.2 455.80,152.6 456.05,153.2 456.30,154.0 456.55,153.1 456.80,153.6 457.05,154.8 457.30,154.1 457.55,154.0 457.80,154.2 458.05,154.5 458.30,153.0 458.55,153.4 458.80,153.4 459.05,153.5 459.30,153.7 459.55,153.6 459.80,154.2 460.05,154.0 460.30,154.4 460.55,154.7 460.80,153.9 461.05,154.9 461.30,155.9 461.55,155.4 461.80,154.9 462.05,155.0 462.30,154.7 462.55,155.6 462.80,155.8 463.05,155.1 463.30,155.2 463.55,155.5 463.80,154.9 464.05,155.2 464.30,154.6 464.55,154.9 464.80,154.9 465.05,156.7 465.30,155.9 465.55,156.0 465.80,155.9 466.05,156.6 466.30,156.7 466.55,156.5 466.80,157.6 467.05,157.1 467.30,157.8 467.55,157.6 467.80,157.7 468.05,157.5 468.30,158.1 468.55,158.1 468.80,158.1 469.05,157.7 469.30,159.4 469.55,158.6 469.80,158.2 470.05,158.6 470.30,158.9 470.55,159.3 470.80,158.5 471.05,158.9 471.30,159.4 471.55,159.8 471.80,159.5 472.05,159.1 472.30,159.0 472.55,159.7 472.80,159.7 473.05,158.8 473.30,159.5 473.55,159.5 473.80,158.8 474.05,159.4 474.30,158.0 474.55,158.0 474.80,158.5 475.05,159.2 475.30,159.3 475.55,159.4 475.80,159.6 476.05,158.5 476.30,159.9 476.55,158.9 476.80,159.5 477.05,159.2 477.30,158.5 477.55,158.0 477.80,158.4 478.05,158.8 478.30,159.2 478.55,159.0 478.80,158.7 479.05,159.2 479.30,159.5 479.55,160.4 479.80,159.1 480.05,160.0 480.30,159.2 480.55,159.3 480.80,159.6 481.05,159.9 481.30,159.4 481.55,159.6 481.80,159.8 482.05,160.4 482.30,159.9 482.55,158.8 482.80,159.4 483.05,158.6 483.30,158.3 483.55,157.8 483.80,158.2 484.05,158.6 484.30,158.4 484.55,159.4 484.80,159.5 485.05,160.0 485.30,158.4 485.55,159.0 485.80,159.4 486.05,158.4 486.30,158.9 486.55,157.7 486.80,158.7 487.05,158.2 487.30,159.2 487.55,158.1 487.80,159.7 488.05,158.9 488.30,159.4 488.55,158.8 488.80,159.1 489.05,160.2 489.30,158.9 489.55,159.1 489.80,159.3 490.05,159.3 490.30,160.6 490.55,160.7 490.80,159.6 491.05,158.9 491.30,159.9 491.55,160.1 491.80,160.0 492.05,159.9 492.30,159.3 492.55,159.9 492.80,159.3 493.05,159.2 493.30,160.2 493.55,159.7 493.80,160.9 494.05,159.6 494.30,159.0 494.55,159.6 494.80,160.0 495.05,159.3 495.30,158.5 495.55,159.1 495.80,159.5 496.05,158.6 496.30,158.6 496.55,159.5 496.80,159.2 497.05,158.6 497.30,158.9 497.55,158.9 497.80,159.2 498.05,159.2 498.30,159.5 498.55,159.5 498.80,158.4 499.05,159.4 499.30,159.8 499.55,160.0 499.80,160.4 500.05,159.9 500.30,159.6 500.55,160.4 500.80,159.6 501.05,158.9 501.30,160.3 501.55,159.6 501.80,159.8 502.05,159.3 502.30,159.1 502.55,159.1 502.80,159.6 503.05,160.0 503.30,158.5 503.55,159.7 503.80,159.0 504.05,159.3 504.30,160.0 504.55,160.0 504.80,159.4 505.05,161.2 505.30,160.0 505.55,160.2 505.80,160.4 506.05,161.0 506.30,159.8 506.55,160.1 506.80,159.2 507.05,160.0 507.30,159.4 507.55,159.7 507.80,160.8 508.05,159.7 508.30,159.5 508.55,160.2 508.80,159.2 509.05,158.7 509.30,159.3 509.55,158.2 509.80,159.6 510.05,159.7 510.30,158.9 510.55,158.8 510.80,158.9 511.05,159.0 511.30,158.4 511.55,159.3 511.80,158.5 512.05,159.5 512.30,159.7 512.55,159.8 512.80,159.8 513.05,159.5 513.30,160.1 513.55,159.7 513.80,159.7 514.05,159.5 514.30,159.7 514.55,160.4 514.80,159.8 515.05,160.0 515.30,160.4 515.55,160.2 515.80,160.2 516.05,159.7 516.30,159.1 516.55,159.9 516.80,159.8 517.05,159.7 517.30,159.0 517.55,159.4 517.80,158.7 518.05,158.8 518.30,158.9 518.55,159.0 518.80,159.5 519.05,159.8 519.30,160.6 519.55,160.0 519.80,161.3 520.05,160.3 520.30,160.4 520.55,160.1 520.80,159.9 521.05,160.9 521.30,160.1 521.55,159.6 521.80,159.7 522.05,160.0 522.30,160.6 522.55,159.6 522.80,159.7 523.05,159.0 523.30,159.5 523.55,159.7 523.80,160.3 524.05,159.1 524.30,159.7 524.55,159.8 524.80,159.0 525.05,159.0 525.30,159.0 525.55,158.1 525.80,159.7 526.05,159.9 526.30,159.1 526.55,158.8 526.80,160.3 527.05,159.8 527.30,160.2 527.55,160.4 527.80,159.2 528.05,160.1 528.30,159.3 528.55,159.2 528.80,159.3 529.05,159.2 529.30,159.3 529.55,158.8 529.80,158.6 530.05,159.1 530.30,159.8 530.55,159.3 530.80,159.2 531.05,159.7 531.30,159.7 531.55,160.0 531.80,159.5 532.05,160.5 532.30,160.3 532.55,160.6 532.80,160.3 533.05,161.1 533.30,160.5 533.55,160.2 533.80,160.6 534.05,160.6 534.30,160.7 534.55,160.1 534.80,161.2 535.05,159.5 535.30,160.4 535.55,159.8 535.80,160.8 536.05,160.0 536.30,160.3 536.55,160.7 536.80,160.7 537.05,160.0 537.30,159.8 537.55,159.2 537.80,159.9 538.05,159.3 538.30,158.9 538.55,159.0 538.80,158.6 539.05,158.5 539.30,159.0 539.55,159.3 539.80,157.7 540.05,159.0 540.30,159.1 540.55,159.8 540.80,159.4 541.05,159.5 541.30,159.3 541.55,160.1 541.80,159.9 542.05,159.3 542.30,159.4 542.55,159.0 542.80,158.5 543.05,159.2 543.30,159.4 543.55,158.8 543.80,159.1 544.05,159.2 544.30,158.0 544.55,158.3 544.80,159.8 545.05,159.7 545.30,159.0 545.55,159.0 545.80,159.5 546.05,159.3 546.30,158.9 546.55,159.2 546.80,158.4 547.05,158.3 547.30,159.2 547.55,158.4 547.80,159.3 548.05,159.1 548.30,159.3 548.55,159.4 548.80,159.7 549.05,159.6 549.30,160.7 549.55,159.7 549.80,159.2 550.05,159.8 550.30,159.9 550.55,159.5 550.80,159.8 551.05,159.6 551.30,158.6 551.55,159.0 551.80,158.6 552.05,159.5 552.30,159.6 552.55,161.1 552.80,159.7 553.05,158.9 553.30,159.2 553.55,159.4 553.80,158.2 554.05,158.9 554.30,158.8 554.55,159.2 554.80,158.7 555.05,159.1 555.30,159.6 555.55,159.0 555.80,158.1 556.05,157.7 556.30,158.1 556.55,158.9 556.80,157.6 557.05,158.3 557.30,158.8 557.55,158.7 557.80,159.0 558.05,158.0 558.30,159.0 558.55,158.7 558.80,157.6 559.05,156.2 559.30,156.4 559.55,156.8 559.80,156.7 560.05,155.8 560.30,155.4 560.55,154.3 560.80,153.8 561.05,152.7 561.30,151.3 561.55,149.0 561.80,148.2 562.05,146.1 562.30,142.2 562.55,138.3 562.80,134.8 563.05,130.7 563.30,125.9 563.55,123.3 563.80,120.0 564.05,117.5 564.30,118.4 564.55,118.9 564.80,120.3 565.05,123.4 565.30,126.8 565.55,131.1 565.80,135.7 566.05,138.9 566.30,142.4 566.55,146.4 566.80,149.1 567.05,150.6 567.30,152.1 567.55,153.2 567.80,154.7 568.05,154.6 568.30,156.0 568.55,155.5 568.80,156.3 569.05,156.2 569.30,157.1 569.55,157.5 569.80,158.1 570.05,157.6 570.30,157.7 570.55,158.2 570.80,158.2 571.05,158.1 571.30,158.8 571.55,157.7 571.80,158.4 572.05,158.4 572.30,157.7 572.55,157.7 572.80,157.1 573.05,158.6 573.30,157.1 573.55,158.8 573.80,158.4 574.05,158.0 574.30,157.3 574.55,159.0 574.80,159.4 575.05,158.6 575.30,158.3 575.55,159.3 575.80,159.1 576.05,160.2 576.30,159.1 576.55,159.7 576.80,158.8 577.05,160.9 577.30,159.5 577.55,158.7 577.80,159.6 578.05,159.2 578.30,160.4 578.55,159.6 578.80,159.6 579.05,160.1 579.30,160.4 579.55,159.6 579.80,160.5 580.05,160.1 580.30,159.2 580.55,159.7 580.80,159.4 581.05,159.0 581.30,160.2 581.55,158.5 581.80,159.5 582.05,159.7 582.30,158.9 582.55,158.2 582.80,158.6 583.05,158.6 583.30,159.0 583.55,159.0 583.80,159.5 584.05,158.8 584.30,159.1 584.55,158.1 584.80,159.3 585.05,159.3 585.30,159.3 585.55,159.7 585.80,159.8 586.05,158.2 586.30,160.0 586.55,159.3 586.80,160.3 587.05,160.9 587.30,159.6 587.55,159.7 587.80,159.6 588.05,159.7 588.30,160.1 588.55,161.0 588.80,160.0 589.05,161.2 589.30,159.8 589.55,160.8 589.80,160.9 590.05,160.3 590.30,158.9 590.55,158.6 590.80,159.0 591.05,159.6 591.30,159.8 591.55,158.9 591.80,159.6 592.05,159.4 592.30,159.7 592.55,159.4 592.80,159.8 593.05,159.5 593.30,159.6 593.55,159.8 593.80,160.4 594.05,158.6 594.30,160.2 594.55,159.7 594.80,159.6 595.05,159.3 595.30,159.1 595.55,160.4 595.80,160.0 596.05,160.1 596.30,159.0 596.55,160.7 596.80,160.0 597.05,159.7 597.30,159.1 597.55,159.8 597.80,159.8 598.05,160.0 598.30,159.9 598.55,160.2 598.80,159.7 599.05,160.0 599.30,159.3 599.55,159.5 599.80,160.1 600.05,159.4 600.30,158.5 600.55,157.7 600.80,157.8 601.05,157.7 601.30,159.2 601.55,158.6 601.80,159.0 602.05,159.1 602.30,159.2 602.55,159.6 602.80,158.7 603.05,158.8 603.30,158.9 603.55,159.8 603.80,158.5 604.05,158.8 604.30,159.1 604.55,158.9 604.80,159.4 605.05,159.9 605.30,158.2 605.55,159.4 605.80,159.3 606.05,158.4 606.30,158.7 606.55,158.7 606.80,158.9 607.05,160.1 607.30,158.1 607.55,158.7 607.80,158.6 608.05,158.5 608.30,159.1 608.55,159.1 608.80,158.9 609.05,159.2 609.30,159.6 609.55,158.5 609.80,160.1 610.05,160.4 610.30,160.2 610.55,160.5 610.80,159.2 611.05,159.8 611.30,159.6 611.55,159.3 611.80,159.8 612.05,159.0 612.30,158.8 612.55,158.3 612.80,159.2 613.05,159.3 613.30,159.3 613.55,159.6 613.80,160.8 614.05,159.6 614.30,159.5 614.55,159.5 614.80,160.8 615.05,161.2 615.30,160.2 615.55,159.4 615.80,159.5 616.05,160.2 616.30,159.4 616.55,160.5 616.80,160.0 617.05,159.8 617.30,160.2 617.55,160.2 617.80,160.6 618.05,159.2 618.30,159.8 618.55,159.7 618.80,159.0 619.05,159.6 619.30,159.5 619.55,159.4 619.80,159.3 620.05,159.9 620.30,160.9 620.55,161.6 620.80,160.8 621.05,160.9 621.30,160.0 621.55,160.2 621.80,160.6 622.05,159.5 622.30,159.3 622.55,159.9 622.80,159.7 623.05,159.2 623.30,160.1 623.55,159.7 623.80,160.5 624.05,160.3 624.30,160.2 624.55,160.8 624.80,160.7 625.05,160.2 625.30,159.9 625.55,160.4 625.80,160.3 626.05,160.4 626.30,159.2 626.55,159.7 626.80,159.2 627.05,159.5 627.30,159.4 627.55,159.3 627.80,159.9 628.05,159.1 628.30,158.8 628.55,160.3 628.80,160.3 629.05,159.5 629.30,159.8 629.55,159.4 629.80,159.9 630.05,158.9 630.30,158.8 630.55,158.8 630.80,158.8 631.05,159.5 631.30,159.1 631.55,159.9 631.80,159.8 632.05,158.2 632.30,159.8 632.55,158.6 632.80,159.7 633.05,160.3 633.30,159.5 633.55,159.1 633.80,159.3 634.05,159.2 634.30,159.1 634.55,158.9 634.80,158.5 635.05,159.5 635.30,158.9 635.55,159.1 635.80,159.2 636.05,159.5 636.30,159.6 636.55,160.1 636.80,160.4 637.05,160.4 637.30,160.3 637.55,160.3 637.80,161.2 638.05,160.1 638.30,160.1 638.55,160.0 638.80,159.4 639.05,158.9 639.30,158.1 639.55,159.2 639.80,158.4 640.05,158.7 640.30,158.9 640.55,158.8 640.80,159.2 641.05,159.9 641.30,159.7 641.55,159.5 641.80,158.7 642.05,158.6 642.30,158.8 642.55,157.8 642.80,158.9 643.05,159.3 643.30,160.0 643.55,159.2 643.80,158.4 644.05,158.2 644.30,157.3 644.55,158.3 644.80,158.9 645.05,159.1 645.30,158.8 645.55,159.1 645.80,159.2 646.05,159.2 646.30,159.6 646.55,158.1 646.80,158.6 647.05,158.4 647.30,159.6 647.55,159.4 647.80,159.4 648.05,158.7 648.30,158.7 648.55,158.3 648.80,158.2 649.05,158.1 649.30,158.4 649.55,158.1 649.80,158.7 650.05,159.0 650.30,159.0 650.55,159.6 650.80,159.4 651.05,160.0 651.30,159.7 651.55,160.0 651.80,159.3 652.05,158.9 652.30,159.6 652.55,158.9 652.80,159.8 653.05,159.5 653.30,158.5 653.55,159.4 653.80,159.6 654.05,159.6 654.30,159.5 654.55,160.3 654.80,159.7 655.05,159.9 655.30,159.4 655.55,159.5 655.80,158.8 656.05,159.3 656.30,159.5 656.55,159.3 656.80,159.2 657.05,158.9 657.30,159.6 657.55,160.0 657.80,159.3 658.05,159.3 658.30,159.8 658.55,160.9 658.80,159.2 659.05,159.3 659.30,159.5 659.55,158.3 659.80,159.2 660.05,159.1 660.30,159.6 660.55,159.3 660.80,158.8 661.05,158.8 661.30,158.9 661.55,158.8 661.80,159.1 662.05,158.5 662.30,159.3 662.55,160.1 662.80,160.3 663.05,159.4 663.30,159.4 663.55,159.7 663.80,159.6 664.05,159.5 664.30,159.1 664.55,159.2 664.80,159.8 665.05,159.8 665.30,159.9 665.55,159.5 665.80,159.4 666.05,158.9 666.30,159.3 666.55,159.0 666.80,159.5 667.05,159.7 667.30,159.4 667.55,160.2 667.80,160.4 668.05,160.0 668.30,160.7 668.55,161.0 668.80,159.4 669.05,160.5 669.30,160.5 669.55,160.3 669.80,160.9 670.05,159.8 670.30,159.8 670.55,159.5 670.80,159.5 671.05,159.7 671.30,159.0 671.55,159.0 671.80,159.6 672.05,159.4 672.30,159.6 672.55,158.7 672.80,159.4 673.05,159.7 673.30,159.7 673.55,159.6 673.80,160.3 674.05,160.0 674.30,160.1 674.55,160.0 674.80,160.3 675.05,160.0 675.30,160.6 675.55,160.1 675.80,160.0 676.05,159.8 676.30,160.0 676.55,160.1 676.80,160.1 677.05,160.0 677.30,160.0 677.55,159.5 677.80,159.8 678.05,159.1 678.30,158.2 678.55,159.6 678.80,158.8 679.05,158.7 679.30,159.3 679.55,158.9 679.80,160.3 680.05,159.4 680.30,158.8 680.55,159.8 680.80,159.2 681.05,160.2 681.30,159.2 681.55,158.6 681.80,160.2 682.05,159.7 682.30,159.9 682.55,159.4 682.80,160.6 683.05,161.1 683.30,159.5"/>
</g>
<text x="63.5" y="144.4" font-size="35" fill="#1f6fe0" stroke="#1f6fe0">Cr(8.3O)</text>
<text x="70" y="257.4" font-size="35" fill="#ec3b3b" stroke="#ec3b3b">Cr</text>
<text x="61" y="371.6" font-size="29.3" fill="#505050" stroke="#505050">Substrate</text>
<text x="64.1" y="437.8" font-size="29.2" fill="#000" stroke="#000">PDF#06-0694-Cr</text>
<line x1="111.5" y1="463.5" x2="111.5" y2="459.5" stroke="#000" stroke-width="3.2"/>
<line x1="168.7" y1="463.5" x2="168.7" y2="455.0" stroke="#000" stroke-width="3.2"/>
<line x1="225.9" y1="463.5" x2="225.9" y2="459.5" stroke="#000" stroke-width="3.2"/>
<line x1="283.1" y1="463.5" x2="283.1" y2="455.0" stroke="#000" stroke-width="3.2"/>
<line x1="340.3" y1="463.5" x2="340.3" y2="459.5" stroke="#000" stroke-width="3.2"/>
<line x1="397.5" y1="463.5" x2="397.5" y2="455.0" stroke="#000" stroke-width="3.2"/>
<line x1="454.7" y1="463.5" x2="454.7" y2="459.5" stroke="#000" stroke-width="3.2"/>
<line x1="511.9" y1="463.5" x2="511.9" y2="455.0" stroke="#000" stroke-width="3.2"/>
<line x1="569.1" y1="463.5" x2="569.1" y2="459.5" stroke="#000" stroke-width="3.2"/>
<line x1="626.3" y1="463.5" x2="626.3" y2="455.0" stroke="#000" stroke-width="3.2"/>

<g fill="#000"><rect x="52.8" y="0" width="632.2" height="3.2"/><rect x="52.8" y="0" width="3.4" height="465.5"/><rect x="52.8" y="461.9" width="632.2" height="3.6"/><rect x="681.2" y="0" width="3.8" height="465.5"/></g>
<g fill="#000" stroke="#000">
<text x="54.3" y="495.0" text-anchor="middle" font-size="28.2">30</text>
<text x="168.7" y="495.0" text-anchor="middle" font-size="28.2">40</text>
<text x="283.1" y="495.0" text-anchor="middle" font-size="28.2">50</text>
<text x="397.5" y="495.0" text-anchor="middle" font-size="28.2">60</text>
<text x="511.9" y="495.0" text-anchor="middle" font-size="28.2">70</text>
<text x="626.3" y="495.0" text-anchor="middle" font-size="28.2">80</text>

<text x="368.5" y="550.4" text-anchor="middle" font-size="38.6" letter-spacing="0.3">2θ(°)</text>
<text transform="translate(27,197.9) rotate(-90)" text-anchor="middle" font-size="39.1">Intensity(a.u.)</text>
</g>
</svg>
</body></html>
